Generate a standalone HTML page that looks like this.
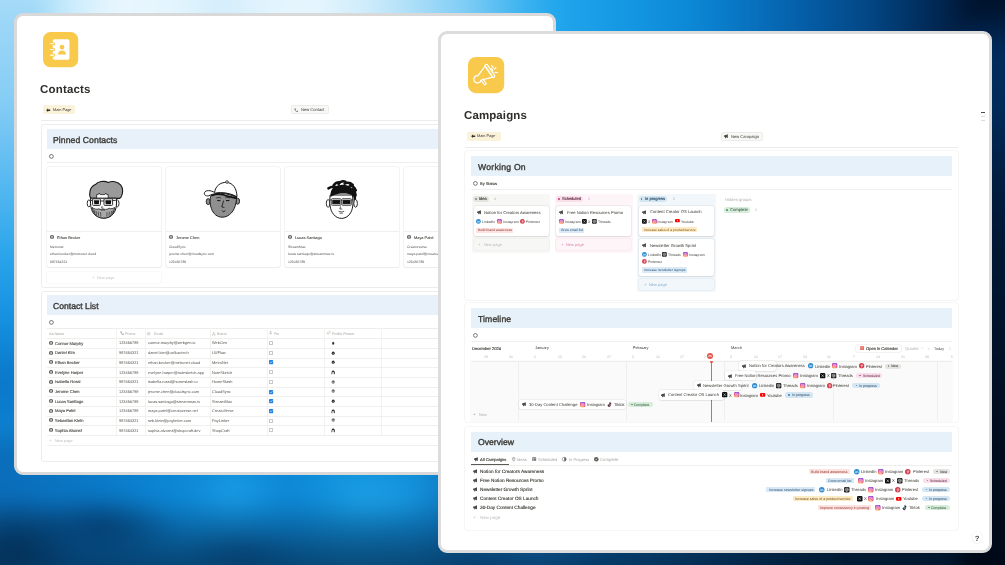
<!DOCTYPE html>
<html><head><meta charset="utf-8">
<style>
*{box-sizing:border-box;margin:0;padding:0}
html,body{width:1005px;height:565px;overflow:hidden}
body{position:relative;font-family:"Liberation Sans",Arial,sans-serif;color:#37352f;background:#0a70c0}
#bg{position:absolute;left:0;top:0;width:1005px;height:565px;overflow:hidden}
#bg>div{position:absolute;left:0;top:0;width:1005px;height:565px;filter:blur(10px)}
#bg i{position:absolute;display:block}
.win{position:absolute;background:#fff;border:3px solid #d9d9d9;border-radius:9px;overflow:hidden}
.pc{position:absolute;width:0;height:0}
.a{position:absolute;white-space:nowrap}
.t{transform:skewX(.06deg)}
svg.a{overflow:visible}

</style></head>
<body>
<div id="bg"><div>
<i style="left:-30px;top:-30px;width:1070px;height:300px;background:linear-gradient(90deg,#a6dbf8 0px,#ace0f9 70px,#d2eefc 110px,#e9f7fe 150px,#e4f5fd 200px,#d4eefc 250px,#e2f4fd 300px,#e6f6fe 345px,#cdebfb 400px,#a6dcf8 450px,#7acbf5 500px,#3fb4f0 550px,#1fa5ec 590px,#1699e4 650px,#0c88d6 720px,#0872bf 780px,#055fa8 830px,#034684 900px,#012a58 960px,#001530 1010px,#000c22 1070px)"></i>
<i style="left:-30px;top:0px;width:75px;height:600px;background:linear-gradient(180deg,#a3d9f7 0px,#86cdf5 100px,#4cb4ef 200px,#27a3ea 260px,#1590e0 320px,#0a78c8 380px,#0c80cf 430px,#0a6db8 480px,#065696 520px,#043a68 565px,#033058 600px)"></i>
<i style="left:-30px;top:440px;width:1070px;height:160px;background:linear-gradient(90deg,#0a6cb8 0px,#0a70bd 60px,#0a7ac8 130px,#0c86d4 200px,#1190dc 260px,#0d88d6 320px,#1396de 380px,#1290da 440px,#0e74bc 500px,#1580d0 570px,#0c64a8 630px,#0a558f 690px,#073e6c 750px,#042848 810px,#021628 880px,#01080f 1070px)"></i>
<i style="left:-30px;top:500px;width:1070px;height:100px;background:linear-gradient(180deg,rgba(2,35,70,0) 0px,rgba(2,35,70,.35) 30px,rgba(2,30,60,.6) 60px,rgba(2,30,60,.7) 100px)"></i>
<i style="left:20px;top:495px;width:160px;height:60px;border-radius:50%;background:radial-gradient(closest-side,rgba(3,50,95,.8),rgba(3,50,95,0))"></i>
<i style="left:180px;top:530px;width:120px;height:50px;border-radius:50%;background:radial-gradient(closest-side,rgba(3,50,95,.6),rgba(3,50,95,0))"></i>
<i style="left:190px;top:470px;width:90px;height:45px;border-radius:50%;background:radial-gradient(closest-side,rgba(40,170,240,.45),rgba(40,170,240,0))"></i>
<i style="left:320px;top:470px;width:110px;height:55px;border-radius:50%;background:radial-gradient(closest-side,rgba(40,170,240,.45),rgba(40,170,240,0))"></i>
<i style="left:960px;top:0;width:80px;height:600px;background:linear-gradient(180deg,#000f26 0px,#002b5c 50px,#002a58 110px,#001a3a 200px,#00142e 300px,#000d20 420px,#000814 600px)"></i>
<i style="left:-50px;top:495px;width:130px;height:100px;border-radius:50%;background:radial-gradient(closest-side,rgba(2,40,75,.75),rgba(2,40,75,0))"></i>
</div></div>

<div class="win" id="w1" style="left:14px;top:12.5px;width:542px;height:462.5px">
 <div class="pc" style="left:-17px;top:-15.5px">
<svg class="a" style="left:43px;top:32px;" width="35.2" height="35.2" viewBox="0 0 35 35"><rect width="35" height="35" rx="7.5" fill="#f8c94b"/><rect x="9.7" y="7.2" width="16.6" height="20.3" rx="1.6" fill="#fff"/><g fill="#fff" stroke="#f8c94b" stroke-width="1"><rect x="6.6" y="10.6" width="5" height="2.2" rx="1.1"/><rect x="6.6" y="16.3" width="5" height="2.2" rx="1.1"/><rect x="6.6" y="22" width="5" height="2.2" rx="1.1"/></g><circle cx="18.9" cy="15.1" r="2.3" fill="#f8c94b"/><path d="M14.8 22.3c.3-2.6 1.8-3.9 4.1-3.9s3.8 1.3 4.1 3.9z" fill="#f8c94b"/></svg>
<div class="a t" style="left:39.7px;top:84.2px;font-size:11.5px;line-height:11.5px;color:#2f2e2b;font-weight:bold;letter-spacing:.18px">Contacts</div>
<div class="a" style="left:43.1px;top:105.2px;width:32.2px;height:9.2px;background:#fbf2da;border-radius:1.8px"></div>
<svg class="a" style="left:46.4px;top:107.8px;" width="4.4" height="4.4" viewBox="0 0 10 10"><path d="M4.8 .8L.4 5l4.4 4.2V6.7h4.8V3.3H4.8z" fill="#37352f"/></svg>
<div class="a t" style="left:53.1px;top:108.18px;font-size:3.87px;line-height:3.87px;color:#37352f;">Main Page</div>
<div class="a" style="left:291.2px;top:105.2px;width:37.6px;height:9.2px;background:#f8f8f7;border-radius:1.8px;border:.5px solid #ececea"></div>
<svg class="a" style="left:294.2px;top:107.8px;" width="4.4" height="4.4" viewBox="0 0 24 24"><path fill="#37352f" d="M6.62 10.79c1.44 2.83 3.76 5.14 6.59 6.59l2.2-2.2c.27-.27.67-.36 1.02-.24 1.12.37 2.33.57 3.57.57.55 0 1 .45 1 1V20c0 .55-.45 1-1 1-9.39 0-17-7.61-17-17 0-.55.45-1 1-1h3.5c.55 0 1 .45 1 1 0 1.25.2 2.45.57 3.57.11.35.03.74-.25 1.02l-2.2 2.2z"/></svg>
<div class="a t" style="left:301.2px;top:108.35px;font-size:4.1px;line-height:4.1px;color:#37352f;">New Contact</div>
<div class="a" style="left:41px;top:120.2px;width:520px;height:0.6px;background:#ececeb"></div>
<div class="a" style="left:40.6px;top:124.4px;width:520px;height:163.6px;border:.6px solid #ededec;border-radius:2.5px"></div>
<div class="a" style="left:46.5px;top:129px;width:510px;height:20px;background:#e8f1f9"></div>
<div class="a t" style="left:53.4px;top:135.6px;font-size:8.65px;line-height:8.65px;color:#3c3b37;-webkit-text-stroke:.36px #3c3b37;letter-spacing:.08px">Pinned Contacts</div>
<svg class="a" style="left:48.6px;top:154px;" width="4.8" height="4.8" viewBox="0 0 4.8 4.8"><circle cx="2.4" cy="2.4" r="1.9" fill="none" stroke="#4a4945" stroke-width="0.75"/></svg>
<div class="a" style="left:46.5px;top:161.9px;width:510px;height:0.6px;background:#efefee"></div>
<div class="a" style="left:46.7px;top:167px;width:114.2px;height:100.1px;border-radius:2px;box-shadow:0 0 0 .6px rgba(15,15,15,.07),0 .5px 1.5px rgba(15,15,15,.05)"></div>
<div class="a" style="left:46.7px;top:231.2px;width:114.2px;height:0.5px;background:#efefee"></div>
<svg class="a" style="left:85.2px;top:179.5px;" width="40" height="40" viewBox="0 0 40 40"><path d="M5.6 18.5C3.6 14 4.6 7 10.4 4.6 12.6 1.4 19 .4 23.4 2.4c3.6-1.8 9.4-1 12.4 2.8 2.6 3.4 2.2 8.4.4 11.6l-1.6 1.6H6.6z" fill="#9a9a9a" stroke="#1a1a1a" stroke-width="1.1"/>
<path d="M11.6 18.4v-3.8h1.6l1-1.6 1 1.6h4.6l1-1.6 1 1.6h1.4v3.8z" fill="#fff" stroke="#1a1a1a" stroke-width=".8"/>
<ellipse cx="3.9" cy="23.4" rx="1.7" ry="3.5" fill="#fff" stroke="#1a1a1a" stroke-width=".9"/>
<ellipse cx="32.3" cy="23.4" rx="1.7" ry="3.5" fill="#fff" stroke="#1a1a1a" stroke-width=".9"/>
<path d="M5.6 18.2c-.4 7 .4 12.4 3.6 16 2.6 2.8 6 4 9.6 4s7-1.4 9.4-4.2c3-3.6 3.8-9 3.2-15.8z" fill="#fff" stroke="#1a1a1a" stroke-width="1"/>
<path d="M7 27.4c1 4.6 3.4 8.4 6.8 9.8 3.2 1.2 6.8 1.2 10-.2 3.4-1.6 5.4-5 6-9.6-2 1.4-4 1.6-5.6.8-1.4 1.2-3.4 1.4-5.2 1-1.6.6-3.6.6-5.2-.4-1.8 1-4.4 .4-6.8-1.4z" fill="#a9a9a9" stroke="#1a1a1a" stroke-width=".8"/>
<path d="M9 29.6l.8 3.4M11 31l.6 3.8M13.2 31.6l.4 4.2M15.6 32l.2 4.6M22 32l-.2 4.6M24.4 31.6l-.4 4.2M26.6 31l-.6 3.8M28.4 29.8l-.8 3.2" stroke="#333" stroke-width=".7"/>
<path d="M16.4 30.6c1.2-.8 2.6-.8 3.6 0" stroke="#333" stroke-width=".7" fill="none"/>
<rect x="7.6" y="18.8" width="7.8" height="6.6" rx=".8" fill="#fff" stroke="#1a1a1a" stroke-width=".9"/>
<rect x="19" y="18.8" width="8.6" height="6.6" rx=".8" fill="#fff" stroke="#1a1a1a" stroke-width=".9"/>
<path d="M8.9 20.2h5.3l-.4 4H9.3z" fill="#111"/><path d="M20.3 20.2h6l-.4 4h-5.2z" fill="#111"/>
<path d="M15.4 21h3.6M5.6 20.4h2M27.6 20.4h3.2" stroke="#1a1a1a" stroke-width=".9"/>
<path d="M17.2 26l-.6 2.2h2" stroke="#1a1a1a" stroke-width=".7" fill="none"/></svg>
<svg class="a" style="left:50.1px;top:235.3px;" width="4" height="4" viewBox="0 0 10 10"><circle cx="5" cy="5" r="5" fill="#55534e"/><circle cx="5" cy="3.7" r="1.6" fill="#fff"/><path d="M2.6 8.2c.3-1.9 1.2-2.6 2.4-2.6s2.1.7 2.4 2.6z" fill="#fff"/></svg>
<div class="a t" style="left:57px;top:235.59px;font-size:3.9px;line-height:3.9px;color:#37352f;-webkit-text-stroke:.06px #37352f">Ethan Becker</div>
<div class="a t" style="left:49.7px;top:245.94px;font-size:3.45px;line-height:3.45px;color:#55534e;">Metronet</div>
<div class="a t" style="left:49.7px;top:252.84px;font-size:3.45px;line-height:3.45px;color:#55534e;">ethan.becker@metronet.cloud</div>
<div class="a t" style="left:49.7px;top:261.04px;font-size:3.45px;line-height:3.45px;color:#55534e;">987654321</div>
<div class="a" style="left:165.65px;top:167px;width:114.2px;height:100.1px;border-radius:2px;box-shadow:0 0 0 .6px rgba(15,15,15,.07),0 .5px 1.5px rgba(15,15,15,.05)"></div>
<div class="a" style="left:165.65px;top:231.2px;width:114.2px;height:0.5px;background:#efefee"></div>
<svg class="a" style="left:204.15px;top:179.5px;" width="40" height="40" viewBox="0 0 40 40"><ellipse cx="4.2" cy="21.6" rx="2" ry="3" fill="#8c8c8c" stroke="#1a1a1a" stroke-width=".9"/>
<ellipse cx="33.6" cy="21.2" rx="2" ry="3" fill="#8c8c8c" stroke="#1a1a1a" stroke-width=".9"/>
<path d="M7 15.6c-1.2 3.4-1.4 8.4.4 13 1.8 5 5.6 8.6 10.8 8.6 5.4 0 9.8-3.8 12-8.6 1.8-4 2.4-8.4 2.2-11.8-4.2-2.4-9.4-3.8-15-3.8-4 0-7.4 1-10.4 2.6z" fill="#8f8f8f" stroke="#1a1a1a" stroke-width="1"/>
<path d="M10.6 12.4C11.4 6 16.4 2.2 22.4 2.4c6.8.4 10.4 6.2 10.6 14.4-4.4-2.6-10.4-4.2-16.4-4.2-2.4 0-4.4.2-6 .4z" fill="#fff" stroke="#1a1a1a" stroke-width="1"/>
<path d="M10.8 12.6C6.6 10 1.8 10 .6 12.4-.4 14.6 1.6 16.4 4.6 15.8l3.6-1.4c4.6-1.6 11.2-1.6 17.6.4l7 2.2" fill="#fff" stroke="#1a1a1a" stroke-width="1"/>
<path d="M8 15.4c4.2-1.6 10.6-1.2 16.4 1l8.4 2" fill="none" stroke="#111" stroke-width="1.6"/>
<circle cx="23" cy="2" r="1.3" fill="#fff" stroke="#1a1a1a" stroke-width=".8"/>
<path d="M12.4 18c1.4-.6 3-.6 4.4 0M21.4 17.8c1.4-.6 3-.4 4.4.4" stroke="#111" stroke-width=".8" fill="none"/>
<path d="M13.2 20.6h3.2M22 20.6h3.4" stroke="#111" stroke-width="1"/>
<path d="M19.6 20.6l-1.8 6.4 2.6.4" stroke="#111" stroke-width=".8" fill="none"/>
<path d="M18.2 30.4c.3 1.8 2.6 1.8 2.9 0" stroke="#111" stroke-width=".8" fill="none"/></svg>
<svg class="a" style="left:169.05px;top:235.3px;" width="4" height="4" viewBox="0 0 10 10"><circle cx="5" cy="5" r="5" fill="#55534e"/><circle cx="5" cy="3.7" r="1.6" fill="#fff"/><path d="M2.6 8.2c.3-1.9 1.2-2.6 2.4-2.6s2.1.7 2.4 2.6z" fill="#fff"/></svg>
<div class="a t" style="left:175.95px;top:235.59px;font-size:3.9px;line-height:3.9px;color:#37352f;-webkit-text-stroke:.06px #37352f">Jerome Chen</div>
<div class="a t" style="left:168.65px;top:245.94px;font-size:3.45px;line-height:3.45px;color:#55534e;">CloudSync</div>
<div class="a t" style="left:168.65px;top:252.84px;font-size:3.45px;line-height:3.45px;color:#55534e;">jerome.chen@cloudsync.com</div>
<div class="a t" style="left:168.65px;top:261.04px;font-size:3.45px;line-height:3.45px;color:#55534e;">123456789</div>
<div class="a" style="left:284.6px;top:167px;width:114.2px;height:100.1px;border-radius:2px;box-shadow:0 0 0 .6px rgba(15,15,15,.07),0 .5px 1.5px rgba(15,15,15,.05)"></div>
<div class="a" style="left:284.6px;top:231.2px;width:114.2px;height:0.5px;background:#efefee"></div>
<svg class="a" style="left:323.1px;top:179.5px;" width="40" height="40" viewBox="0 0 40 40"><ellipse cx="5.1" cy="23.4" rx="1.8" ry="3.8" fill="#fff" stroke="#1a1a1a" stroke-width=".9"/>
<ellipse cx="32.6" cy="23.4" rx="1.8" ry="3.8" fill="#fff" stroke="#1a1a1a" stroke-width=".9"/>
<path d="M7.2 15c-1 8.4-.4 14.6 3.2 19.2 2.4 3 5.2 4.2 8.2 4.2s6-1.4 8.2-4.4c3.2-4.4 3.8-10.4 2.6-19z" fill="#fff" stroke="#1a1a1a" stroke-width="1"/>
<path d="M7.6 17c-.6-4 .6-8 3.6-10 4.4-2.8 11.4-3 15.6-.4 3.4 2.2 4.6 6 4.2 10.6-1.4-1.8-3.2-2.8-5.4-3.2-4.6-.8-9.6-.6-13.6.8-1.8.6-3.2 1.2-4.4 2.2z" fill="#111"/>
<path d="M5.4 8.4c2.4-1.6 5-2 7.2-1.4M10.6 5.4c1.2-2.2 3.4-3.2 5.6-3.2M15.6 4.2c1.4-2.4 4.4-3.2 6.8-2.6M21.6 3.6c2.8-1.4 6-.8 8.2 1.2M26.8 5.6c2.8.4 5 2.2 6 4.8M29.6 9.2c1.8 1.4 2.8 3.6 3 6.2M30.6 13.4c1.2 1.6 1.6 3.4 1.2 5.4" stroke="#111" stroke-width="2.5" stroke-linecap="round" fill="none"/>
<rect x="9" y="19.6" width="8.4" height="4.8" rx=".6" fill="#111" stroke="#fff" stroke-width=".5"/>
<rect x="19.4" y="19.6" width="8.4" height="4.8" rx=".6" fill="#111" stroke="#fff" stroke-width=".5"/>
<rect x="8.4" y="18.6" width="9.6" height="6.8" rx="1" fill="none" stroke="#1a1a1a" stroke-width=".7"/>
<rect x="18.8" y="18.6" width="9.6" height="6.8" rx="1" fill="none" stroke="#1a1a1a" stroke-width=".7"/>
<path d="M18 20.4h.8M7 20h1.4M28.4 20h2" stroke="#1a1a1a" stroke-width=".9"/>
<path d="M17.6 26.4l-.8 2.6h2.4M15.6 31.2c1.8.8 3.8.8 5.6 0M16.6 33.2h3.2" stroke="#1a1a1a" stroke-width=".7" fill="none"/></svg>
<svg class="a" style="left:288px;top:235.3px;" width="4" height="4" viewBox="0 0 10 10"><circle cx="5" cy="5" r="5" fill="#55534e"/><circle cx="5" cy="3.7" r="1.6" fill="#fff"/><path d="M2.6 8.2c.3-1.9 1.2-2.6 2.4-2.6s2.1.7 2.4 2.6z" fill="#fff"/></svg>
<div class="a t" style="left:294.9px;top:235.59px;font-size:3.9px;line-height:3.9px;color:#37352f;-webkit-text-stroke:.06px #37352f">Lucas Santiago</div>
<div class="a t" style="left:287.6px;top:245.94px;font-size:3.45px;line-height:3.45px;color:#55534e;">StreamMax</div>
<div class="a t" style="left:287.6px;top:252.84px;font-size:3.45px;line-height:3.45px;color:#55534e;">lucas.santiago@streammax.tv</div>
<div class="a t" style="left:287.6px;top:261.04px;font-size:3.45px;line-height:3.45px;color:#55534e;">123456789</div>
<div class="a" style="left:403.55px;top:167px;width:114.2px;height:100.1px;border-radius:2px;box-shadow:0 0 0 .6px rgba(15,15,15,.07),0 .5px 1.5px rgba(15,15,15,.05)"></div>
<div class="a" style="left:403.55px;top:231.2px;width:114.2px;height:0.5px;background:#efefee"></div>
<svg class="a" style="left:406.95px;top:235.3px;" width="4" height="4" viewBox="0 0 10 10"><circle cx="5" cy="5" r="5" fill="#55534e"/><circle cx="5" cy="3.7" r="1.6" fill="#fff"/><path d="M2.6 8.2c.3-1.9 1.2-2.6 2.4-2.6s2.1.7 2.4 2.6z" fill="#fff"/></svg>
<div class="a t" style="left:413.85px;top:235.59px;font-size:3.9px;line-height:3.9px;color:#37352f;-webkit-text-stroke:.06px #37352f">Maya Patel</div>
<div class="a t" style="left:406.55px;top:245.94px;font-size:3.45px;line-height:3.45px;color:#55534e;">Creatorverse</div>
<div class="a t" style="left:406.55px;top:252.84px;font-size:3.45px;line-height:3.45px;color:#55534e;">maya.patel@creatoverse.net</div>
<div class="a t" style="left:406.55px;top:261.04px;font-size:3.45px;line-height:3.45px;color:#55534e;">123456789</div>
<div class="a" style="left:46.7px;top:271.6px;width:114.2px;height:11.7px;border-radius:2px;box-shadow:0 0 0 .6px rgba(15,15,15,.05)"></div>
<div class="a t" style="left:91.6px;top:276.45px;font-size:4.4px;line-height:4.4px;color:#c4c3c0;">+</div>
<div class="a t" style="left:96.8px;top:276.29px;font-size:3.9px;line-height:3.9px;color:#c4c3c0;">New page</div>
<div class="a" style="left:40.6px;top:290.8px;width:520px;height:170.8px;border:.6px solid #ededec;border-radius:2.5px"></div>
<div class="a" style="left:46.5px;top:295.3px;width:510px;height:20.1px;background:#e8f1f9"></div>
<div class="a t" style="left:52.9px;top:301.9px;font-size:8.65px;line-height:8.65px;color:#3c3b37;-webkit-text-stroke:.36px #3c3b37">Contact List</div>
<svg class="a" style="left:48.6px;top:320.4px;" width="4.8" height="4.8" viewBox="0 0 4.8 4.8"><circle cx="2.4" cy="2.4" r="1.9" fill="none" stroke="#4a4945" stroke-width="0.75"/></svg>
<div class="a" style="left:46.5px;top:328.1px;width:510px;height:0.5px;background:#ededec"></div>
<div class="a" style="left:46.5px;top:338.2px;width:510px;height:0.5px;background:#ededec"></div>
<div class="a" style="left:116.3px;top:328.1px;width:0.5px;height:107px;background:#f2f2f1"></div>
<div class="a" style="left:145.3px;top:328.1px;width:0.5px;height:107px;background:#f2f2f1"></div>
<div class="a" style="left:209.8px;top:328.1px;width:0.5px;height:107px;background:#f2f2f1"></div>
<div class="a" style="left:266.9px;top:328.1px;width:0.5px;height:107px;background:#f2f2f1"></div>
<div class="a" style="left:324.2px;top:328.1px;width:0.5px;height:107px;background:#f2f2f1"></div>
<div class="a" style="left:380.8px;top:328.1px;width:0.5px;height:107px;background:#f2f2f1"></div>
<div class="a t" style="left:48.6px;top:332.79px;font-size:3.6px;line-height:3.6px;color:#a5a4a0;">Aa&nbsp;Name</div>
<svg class="a" style="left:119.5px;top:331.1px;" width="4.3" height="4.3" viewBox="0 0 24 24"><path fill="#6f6e6a" d="M6.62 10.79c1.44 2.83 3.76 5.14 6.59 6.59l2.2-2.2c.27-.27.67-.36 1.02-.24 1.12.37 2.33.57 3.57.57.55 0 1 .45 1 1V20c0 .55-.45 1-1 1-9.39 0-17-7.61-17-17 0-.55.45-1 1-1h3.5c.55 0 1 .45 1 1 0 1.25.2 2.45.57 3.57.11.35.03.74-.25 1.02l-2.2 2.2z"/></svg>
<div class="a t" style="left:125.2px;top:332.79px;font-size:3.6px;line-height:3.6px;color:#a5a4a0;">Phone</div>
<svg class="a" style="left:147.4px;top:331.6px;" width="3.4" height="3.4" viewBox="0 0 10 10"><circle cx="5" cy="5" r="4.2" fill="none" stroke="#a5a4a0" stroke-width="1.1"/><circle cx="5" cy="5" r="1.7" fill="none" stroke="#a5a4a0" stroke-width="1.1"/></svg>
<div class="a t" style="left:153.6px;top:332.79px;font-size:3.6px;line-height:3.6px;color:#a5a4a0;">Email</div>
<svg class="a" style="left:211.8px;top:331.5px;" width="3.6" height="3.6" viewBox="0 0 10 10"><g fill="none" stroke="#a5a4a0" stroke-width="1"><circle cx="5" cy="2.2" r="1.5"/><circle cx="2" cy="8" r="1.5"/><circle cx="8" cy="8" r="1.5"/><path d="M5 3.7V5.5M3 7l2-1.5 2 1.5"/></g></svg>
<div class="a t" style="left:217.3px;top:332.79px;font-size:3.6px;line-height:3.6px;color:#a5a4a0;">Brand</div>
<svg class="a" style="left:269.4px;top:331.3px;" width="3.2" height="3.8" viewBox="0 0 8 10"><path d="M2 1h4M2.8 1v3.5L1 6.5h6L5.2 4.5V1M4 6.5V10" fill="none" stroke="#a5a4a0" stroke-width="1.1"/></svg>
<div class="a t" style="left:274.3px;top:332.79px;font-size:3.6px;line-height:3.6px;color:#a5a4a0;">Pin</div>
<svg class="a" style="left:326.5px;top:331.4px;" width="3.6" height="3.8" viewBox="0 0 10 10"><path d="M7.5 3.2L3.6 7.1a1.2 1.2 0 0 1-1.7-1.7L6.5.8a2 2 0 0 1 2.8 2.8L4.8 8.2a2.8 2.8 0 0 1-4-4L4 1" fill="none" stroke="#a5a4a0" stroke-width=".9"/></svg>
<div class="a t" style="left:331.8px;top:332.79px;font-size:3.6px;line-height:3.6px;color:#a5a4a0;">Profile Picture</div>
<div class="a" style="left:46.5px;top:347.88px;width:510px;height:0.5px;background:#efefee"></div>
<svg class="a" style="left:49.25px;top:340.95px;" width="4.1" height="4.1" viewBox="0 0 10 10"><circle cx="5" cy="5" r="5" fill="#55534e"/><circle cx="5" cy="3.7" r="1.6" fill="#fff"/><path d="M2.6 8.2c.3-1.9 1.2-2.6 2.4-2.6s2.1.7 2.4 2.6z" fill="#fff"/></svg>
<div class="a t" style="left:55.3px;top:341.55px;font-size:4.1px;line-height:4.1px;color:#37352f;-webkit-text-stroke:.08px #37352f">Connor Murphy</div>
<div class="a t" style="left:119px;top:341.49px;font-size:3.9px;line-height:3.9px;color:#55534e;">123456789</div>
<div class="a t" style="left:147.8px;top:341.49px;font-size:3.9px;line-height:3.9px;color:#55534e;">connor.murphy@webgen.io</div>
<div class="a t" style="left:212px;top:341.49px;font-size:3.9px;line-height:3.9px;color:#55534e;">WebGen</div>
<div class="a" style="left:269.4px;top:341.1px;width:4.1px;height:4.1px;border:.5px solid #c9c8c5;border-radius:.6px"></div>
<svg class="a" style="left:331.2px;top:340.9px;" width="4.4" height="4.4" viewBox="0 0 10 10"><ellipse cx="5" cy="5.2" rx="2.2" ry="3.6" fill="#2a2a2a"/></svg>
<div class="a" style="left:46.5px;top:357.56px;width:510px;height:0.5px;background:#efefee"></div>
<svg class="a" style="left:49.25px;top:350.63px;" width="4.1" height="4.1" viewBox="0 0 10 10"><circle cx="5" cy="5" r="5" fill="#55534e"/><circle cx="5" cy="3.7" r="1.6" fill="#fff"/><path d="M2.6 8.2c.3-1.9 1.2-2.6 2.4-2.6s2.1.7 2.4 2.6z" fill="#fff"/></svg>
<div class="a t" style="left:55.3px;top:351.23px;font-size:4.1px;line-height:4.1px;color:#37352f;-webkit-text-stroke:.08px #37352f">Daniel Kim</div>
<div class="a t" style="left:119px;top:351.17px;font-size:3.9px;line-height:3.9px;color:#55534e;">987654321</div>
<div class="a t" style="left:147.8px;top:351.17px;font-size:3.9px;line-height:3.9px;color:#55534e;">daniel.kim@uxflow.tech</div>
<div class="a t" style="left:212px;top:351.17px;font-size:3.9px;line-height:3.9px;color:#55534e;">UXFlow</div>
<div class="a" style="left:269.4px;top:350.78px;width:4.1px;height:4.1px;border:.5px solid #c9c8c5;border-radius:.6px"></div>
<svg class="a" style="left:331.2px;top:350.58px;" width="4.4" height="4.4" viewBox="0 0 10 10"><ellipse cx="5" cy="5" rx="3.4" ry="3.8" fill="#2a2a2a"/><ellipse cx="5" cy="6.4" rx="2.2" ry="2" fill="#777"/></svg>
<div class="a" style="left:46.5px;top:367.24px;width:510px;height:0.5px;background:#efefee"></div>
<svg class="a" style="left:49.25px;top:360.31px;" width="4.1" height="4.1" viewBox="0 0 10 10"><circle cx="5" cy="5" r="5" fill="#55534e"/><circle cx="5" cy="3.7" r="1.6" fill="#fff"/><path d="M2.6 8.2c.3-1.9 1.2-2.6 2.4-2.6s2.1.7 2.4 2.6z" fill="#fff"/></svg>
<div class="a t" style="left:55.3px;top:360.91px;font-size:4.1px;line-height:4.1px;color:#37352f;-webkit-text-stroke:.08px #37352f">Ethan Becker</div>
<div class="a t" style="left:119px;top:360.85px;font-size:3.9px;line-height:3.9px;color:#55534e;">987654321</div>
<div class="a t" style="left:147.8px;top:360.85px;font-size:3.9px;line-height:3.9px;color:#55534e;">ethan.becker@metronet.cloud</div>
<div class="a t" style="left:212px;top:360.85px;font-size:3.9px;line-height:3.9px;color:#55534e;">MetroNet</div>
<svg class="a" style="left:269.4px;top:360.46px;" width="4.2" height="4.2" viewBox="0 0 10 10"><rect width="10" height="10" rx="1.5" fill="#2383e2"/><path d="M2.3 5.2l1.9 1.9 3.6-3.9" fill="none" stroke="#fff" stroke-width="1.4"/></svg>
<svg class="a" style="left:331.2px;top:360.26px;" width="4.4" height="4.4" viewBox="0 0 10 10"><ellipse cx="5" cy="5" rx="3.4" ry="3.8" fill="#2a2a2a"/><ellipse cx="5" cy="6.4" rx="2.2" ry="2" fill="#777"/></svg>
<div class="a" style="left:46.5px;top:376.92px;width:510px;height:0.5px;background:#efefee"></div>
<svg class="a" style="left:49.25px;top:369.99px;" width="4.1" height="4.1" viewBox="0 0 10 10"><circle cx="5" cy="5" r="5" fill="#55534e"/><circle cx="5" cy="3.7" r="1.6" fill="#fff"/><path d="M2.6 8.2c.3-1.9 1.2-2.6 2.4-2.6s2.1.7 2.4 2.6z" fill="#fff"/></svg>
<div class="a t" style="left:55.3px;top:370.59px;font-size:4.1px;line-height:4.1px;color:#37352f;-webkit-text-stroke:.08px #37352f">Evelyne Harper</div>
<div class="a t" style="left:119px;top:370.53px;font-size:3.9px;line-height:3.9px;color:#55534e;">123456789</div>
<div class="a t" style="left:147.8px;top:370.53px;font-size:3.9px;line-height:3.9px;color:#55534e;">evelyne.harper@notesketch.app</div>
<div class="a t" style="left:212px;top:370.53px;font-size:3.9px;line-height:3.9px;color:#55534e;">NoteSketch</div>
<div class="a" style="left:269.4px;top:370.14px;width:4.1px;height:4.1px;border:.5px solid #c9c8c5;border-radius:.6px"></div>
<svg class="a" style="left:331.2px;top:369.94px;" width="4.4" height="4.4" viewBox="0 0 10 10"><path d="M1.2 9.6C.8 4 2.2 1 5 1s4.2 3 3.8 8.6H7.2C7.4 6 6.6 4.6 5 4.6S2.6 6 2.8 9.6z" fill="#1e1e1e"/><ellipse cx="5" cy="6.6" rx="2" ry="2.4" fill="#bbb"/></svg>
<div class="a" style="left:46.5px;top:386.6px;width:510px;height:0.5px;background:#efefee"></div>
<svg class="a" style="left:49.25px;top:379.67px;" width="4.1" height="4.1" viewBox="0 0 10 10"><circle cx="5" cy="5" r="5" fill="#55534e"/><circle cx="5" cy="3.7" r="1.6" fill="#fff"/><path d="M2.6 8.2c.3-1.9 1.2-2.6 2.4-2.6s2.1.7 2.4 2.6z" fill="#fff"/></svg>
<div class="a t" style="left:55.3px;top:380.27px;font-size:4.1px;line-height:4.1px;color:#37352f;-webkit-text-stroke:.08px #37352f">Isabella Rossi</div>
<div class="a t" style="left:119px;top:380.21px;font-size:3.9px;line-height:3.9px;color:#55534e;">987654321</div>
<div class="a t" style="left:147.8px;top:380.21px;font-size:3.9px;line-height:3.9px;color:#55534e;">isabella.rossi@homestash.io</div>
<div class="a t" style="left:212px;top:380.21px;font-size:3.9px;line-height:3.9px;color:#55534e;">HomeStash</div>
<div class="a" style="left:269.4px;top:379.82px;width:4.1px;height:4.1px;border:.5px solid #c9c8c5;border-radius:.6px"></div>
<svg class="a" style="left:331.2px;top:379.62px;" width="4.4" height="4.4" viewBox="0 0 10 10"><ellipse cx="5" cy="5" rx="3.6" ry="3.9" fill="#9c9c9c"/><ellipse cx="5" cy="3" rx="3.4" ry="2" fill="#6a6a6a"/></svg>
<div class="a" style="left:46.5px;top:396.28px;width:510px;height:0.5px;background:#efefee"></div>
<svg class="a" style="left:49.25px;top:389.35px;" width="4.1" height="4.1" viewBox="0 0 10 10"><circle cx="5" cy="5" r="5" fill="#55534e"/><circle cx="5" cy="3.7" r="1.6" fill="#fff"/><path d="M2.6 8.2c.3-1.9 1.2-2.6 2.4-2.6s2.1.7 2.4 2.6z" fill="#fff"/></svg>
<div class="a t" style="left:55.3px;top:389.95px;font-size:4.1px;line-height:4.1px;color:#37352f;-webkit-text-stroke:.08px #37352f">Jerome Chen</div>
<div class="a t" style="left:119px;top:389.89px;font-size:3.9px;line-height:3.9px;color:#55534e;">123456789</div>
<div class="a t" style="left:147.8px;top:389.89px;font-size:3.9px;line-height:3.9px;color:#55534e;">jerome.chen@cloudsync.com</div>
<div class="a t" style="left:212px;top:389.89px;font-size:3.9px;line-height:3.9px;color:#55534e;">CloudSync</div>
<svg class="a" style="left:269.4px;top:389.5px;" width="4.2" height="4.2" viewBox="0 0 10 10"><rect width="10" height="10" rx="1.5" fill="#2383e2"/><path d="M2.3 5.2l1.9 1.9 3.6-3.9" fill="none" stroke="#fff" stroke-width="1.4"/></svg>
<svg class="a" style="left:331.2px;top:389.3px;" width="4.4" height="4.4" viewBox="0 0 10 10"><ellipse cx="5" cy="5" rx="3.6" ry="3.9" fill="#9c9c9c"/><ellipse cx="5" cy="3" rx="3.4" ry="2" fill="#6a6a6a"/></svg>
<div class="a" style="left:46.5px;top:405.96px;width:510px;height:0.5px;background:#efefee"></div>
<svg class="a" style="left:49.25px;top:399.03px;" width="4.1" height="4.1" viewBox="0 0 10 10"><circle cx="5" cy="5" r="5" fill="#55534e"/><circle cx="5" cy="3.7" r="1.6" fill="#fff"/><path d="M2.6 8.2c.3-1.9 1.2-2.6 2.4-2.6s2.1.7 2.4 2.6z" fill="#fff"/></svg>
<div class="a t" style="left:55.3px;top:399.63px;font-size:4.1px;line-height:4.1px;color:#37352f;-webkit-text-stroke:.08px #37352f">Lucas Santiago</div>
<div class="a t" style="left:119px;top:399.57px;font-size:3.9px;line-height:3.9px;color:#55534e;">123456789</div>
<div class="a t" style="left:147.8px;top:399.57px;font-size:3.9px;line-height:3.9px;color:#55534e;">lucas.santiago@streammax.tv</div>
<div class="a t" style="left:212px;top:399.57px;font-size:3.9px;line-height:3.9px;color:#55534e;">StreamMax</div>
<svg class="a" style="left:269.4px;top:399.18px;" width="4.2" height="4.2" viewBox="0 0 10 10"><rect width="10" height="10" rx="1.5" fill="#2383e2"/><path d="M2.3 5.2l1.9 1.9 3.6-3.9" fill="none" stroke="#fff" stroke-width="1.4"/></svg>
<svg class="a" style="left:331.2px;top:398.98px;" width="4.4" height="4.4" viewBox="0 0 10 10"><ellipse cx="5" cy="5" rx="3.4" ry="3.8" fill="#2a2a2a"/><ellipse cx="5" cy="6.4" rx="2.2" ry="2" fill="#777"/></svg>
<div class="a" style="left:46.5px;top:415.64px;width:510px;height:0.5px;background:#efefee"></div>
<svg class="a" style="left:49.25px;top:408.71px;" width="4.1" height="4.1" viewBox="0 0 10 10"><circle cx="5" cy="5" r="5" fill="#55534e"/><circle cx="5" cy="3.7" r="1.6" fill="#fff"/><path d="M2.6 8.2c.3-1.9 1.2-2.6 2.4-2.6s2.1.7 2.4 2.6z" fill="#fff"/></svg>
<div class="a t" style="left:55.3px;top:409.31px;font-size:4.1px;line-height:4.1px;color:#37352f;-webkit-text-stroke:.08px #37352f">Maya Patel</div>
<div class="a t" style="left:119px;top:409.25px;font-size:3.9px;line-height:3.9px;color:#55534e;">123456789</div>
<div class="a t" style="left:147.8px;top:409.25px;font-size:3.9px;line-height:3.9px;color:#55534e;">maya.patel@creatoverse.net</div>
<div class="a t" style="left:212px;top:409.25px;font-size:3.9px;line-height:3.9px;color:#55534e;">CreatoVerse</div>
<svg class="a" style="left:269.4px;top:408.86px;" width="4.2" height="4.2" viewBox="0 0 10 10"><rect width="10" height="10" rx="1.5" fill="#2383e2"/><path d="M2.3 5.2l1.9 1.9 3.6-3.9" fill="none" stroke="#fff" stroke-width="1.4"/></svg>
<svg class="a" style="left:331.2px;top:408.66px;" width="4.4" height="4.4" viewBox="0 0 10 10"><path d="M1.2 9.6C.8 4 2.2 1 5 1s4.2 3 3.8 8.6H7.2C7.4 6 6.6 4.6 5 4.6S2.6 6 2.8 9.6z" fill="#1e1e1e"/><ellipse cx="5" cy="6.6" rx="2" ry="2.4" fill="#bbb"/></svg>
<div class="a" style="left:46.5px;top:425.32px;width:510px;height:0.5px;background:#efefee"></div>
<svg class="a" style="left:49.25px;top:418.39px;" width="4.1" height="4.1" viewBox="0 0 10 10"><circle cx="5" cy="5" r="5" fill="#55534e"/><circle cx="5" cy="3.7" r="1.6" fill="#fff"/><path d="M2.6 8.2c.3-1.9 1.2-2.6 2.4-2.6s2.1.7 2.4 2.6z" fill="#fff"/></svg>
<div class="a t" style="left:55.3px;top:418.99px;font-size:4.1px;line-height:4.1px;color:#37352f;-webkit-text-stroke:.08px #37352f">Sebastian Klein</div>
<div class="a t" style="left:119px;top:418.93px;font-size:3.9px;line-height:3.9px;color:#55534e;">987654321</div>
<div class="a t" style="left:147.8px;top:418.93px;font-size:3.9px;line-height:3.9px;color:#55534e;">seb.klein@paylinker.com</div>
<div class="a t" style="left:212px;top:418.93px;font-size:3.9px;line-height:3.9px;color:#55534e;">PayLinker</div>
<div class="a" style="left:269.4px;top:418.54px;width:4.1px;height:4.1px;border:.5px solid #c9c8c5;border-radius:.6px"></div>
<svg class="a" style="left:331.2px;top:418.34px;" width="4.4" height="4.4" viewBox="0 0 10 10"><ellipse cx="5" cy="5" rx="3.6" ry="3.9" fill="#9c9c9c"/><ellipse cx="5" cy="3" rx="3.4" ry="2" fill="#6a6a6a"/></svg>
<div class="a" style="left:46.5px;top:435px;width:510px;height:0.5px;background:#efefee"></div>
<svg class="a" style="left:49.25px;top:428.07px;" width="4.1" height="4.1" viewBox="0 0 10 10"><circle cx="5" cy="5" r="5" fill="#55534e"/><circle cx="5" cy="3.7" r="1.6" fill="#fff"/><path d="M2.6 8.2c.3-1.9 1.2-2.6 2.4-2.6s2.1.7 2.4 2.6z" fill="#fff"/></svg>
<div class="a t" style="left:55.3px;top:428.67px;font-size:4.1px;line-height:4.1px;color:#37352f;-webkit-text-stroke:.08px #37352f">Sophia Alvarez</div>
<div class="a t" style="left:119px;top:428.61px;font-size:3.9px;line-height:3.9px;color:#55534e;">987654321</div>
<div class="a t" style="left:147.8px;top:428.61px;font-size:3.9px;line-height:3.9px;color:#55534e;">sophia.alvarez@shopcraft.dev</div>
<div class="a t" style="left:212px;top:428.61px;font-size:3.9px;line-height:3.9px;color:#55534e;">ShopCraft</div>
<div class="a" style="left:269.4px;top:428.22px;width:4.1px;height:4.1px;border:.5px solid #c9c8c5;border-radius:.6px"></div>
<svg class="a" style="left:331.2px;top:428.02px;" width="4.4" height="4.4" viewBox="0 0 10 10"><path d="M1.2 9.6C.8 4 2.2 1 5 1s4.2 3 3.8 8.6H7.2C7.4 6 6.6 4.6 5 4.6S2.6 6 2.8 9.6z" fill="#1e1e1e"/><ellipse cx="5" cy="6.6" rx="2" ry="2.4" fill="#bbb"/></svg>
<div class="a t" style="left:48.6px;top:438.65px;font-size:4.4px;line-height:4.4px;color:#bdbcb9;">+</div>
<div class="a t" style="left:55px;top:438.5px;font-size:3.95px;line-height:3.95px;color:#bdbcb9;">New page</div>
<div class="a" style="left:46.5px;top:444.5px;width:510px;height:0.5px;background:#efefee"></div>
 </div>
</div>
<div class="win" id="w2" style="left:438px;top:31px;width:553.5px;height:521.7px;border-color:#dcdcdc">
 <div class="pc" style="left:-441px;top:-34px">
<svg class="a" style="left:467.8px;top:56.6px;" width="36.2" height="36.2" viewBox="0 0 36 36"><rect width="36" height="36" rx="8" fill="#f8c94b"/><g fill="none" stroke="#fff" stroke-width="1.15" stroke-linejoin="round" stroke-linecap="round"><g transform="translate(10.6 21.4) rotate(-34)"><path d="M1 -2.7L12.2 -6.6V6.6L1 2.7"/><path d="M1 -2.7A3.6 3.6 0 1 0 1 2.7"/><rect x="12.2" y="-7.6" width="2.6" height="15.2" rx="1.3"/><path d="M0.9 2.9L1.2 8.6H3.3L3.4 2.6"/><path d="M14.8 -1.6a1.6 1.6 0 0 1 0 3.2"/></g><path d="M23.6 8.5L25 10.4M25.9 12L27.8 10.8M26.6 15.2L29.3 15.6"/></g></svg>
<div class="a t" style="left:464px;top:110.4px;font-size:11.5px;line-height:11.5px;color:#2f2e2b;font-weight:bold;letter-spacing:.1px">Campaigns</div>
<div class="a" style="left:467.4px;top:131.6px;width:33.2px;height:9.1px;background:#fbf2da;border-radius:1.8px"></div>
<svg class="a" style="left:470.6px;top:134.1px;" width="4.4" height="4.4" viewBox="0 0 10 10"><path d="M4.8 .8L.4 5l4.4 4.2V6.7h4.8V3.3H4.8z" fill="#37352f"/></svg>
<div class="a t" style="left:477.3px;top:134.48px;font-size:3.87px;line-height:3.87px;color:#37352f;">Main Page</div>
<div class="a" style="left:720.9px;top:131.7px;width:41.8px;height:9px;background:#f8f8f7;border-radius:1.8px;border:.5px solid #ececea"></div>
<svg class="a" style="left:724px;top:134.1px;" width="4.4" height="4.4" viewBox="0 0 10 10"><path d="M2.3 3.1L8.7.7v8.6L2.3 6.9z" fill="#4a4945"/><rect x=".3" y="3.1" width="2.4" height="3.8" rx=".5" fill="#4a4945"/><path d="M2.2 6.6l.9 3h1.7l-.7-2.6z" fill="#4a4945"/></svg>
<div class="a t" style="left:731px;top:134.55px;font-size:4.1px;line-height:4.1px;color:#37352f;">New Campaign</div>
<div class="a" style="left:465px;top:147.1px;width:493.2px;height:0.6px;background:#ececeb"></div>
<div class="a" style="left:465.3px;top:150.8px;width:492.9px;height:149.4px;border-radius:2.5px;box-shadow:0 0 0 .6px rgba(15,15,15,.07)"></div>
<div class="a" style="left:470.9px;top:155.9px;width:481.1px;height:20.2px;background:#e7f1f9"></div>
<div class="a t" style="left:477.6px;top:162.8px;font-size:8.65px;line-height:8.65px;color:#3c3b37;-webkit-text-stroke:.36px #3c3b37;letter-spacing:0.25px">Working On</div>
<svg class="a" style="left:473.1px;top:181.3px;" width="4.8" height="4.8" viewBox="0 0 4.8 4.8"><circle cx="2.4" cy="2.4" r="1.9" fill="none" stroke="#55534e" stroke-width="0.75"/></svg>
<div class="a t" style="left:480.1px;top:182.1px;font-size:3.95px;line-height:3.95px;color:#37352f;-webkit-text-stroke:.12px #37352f">By Status</div>
<div class="a" style="left:470.9px;top:189.2px;width:481.1px;height:0.5px;background:#efefee"></div>
<div class="a" style="left:472px;top:194.4px;width:78.3px;height:58.3px;background:#f7f7f5;border-radius:2px"></div>
<div class="a" style="left:554.6px;top:194.4px;width:78.3px;height:58.3px;background:#fdf5f8;border-radius:2px"></div>
<div class="a" style="left:637.2px;top:193.7px;width:78.8px;height:98.2px;background:#f1f7fb;border-radius:2px"></div>
<div class="a" style="left:473.4px;top:196.2px;width:15.78px;height:5.8px;background:#e5e4e1;border-radius:2.9px"></div>
<div class="a" style="left:475.4px;top:198.3px;width:1.6px;height:1.6px;background:#8f8e8a;border-radius:50%"></div>
<div class="a t" style="left:479px;top:197.42px;font-size:4px;line-height:4px;color:#37352f;-webkit-text-stroke:0.12px #37352f">Idea</div>
<div class="a t" style="left:494.4px;top:198.42px;font-size:3.7px;line-height:3.7px;color:#9b9a97;">1</div>
<div class="a" style="left:556.2px;top:196.2px;width:26.9px;height:5.8px;background:#f9dfea;border-radius:2.9px"></div>
<div class="a" style="left:558.2px;top:198.3px;width:1.6px;height:1.6px;background:#d2488a;border-radius:50%"></div>
<div class="a t" style="left:561.8px;top:197.42px;font-size:4px;line-height:4px;color:#5a2440;-webkit-text-stroke:0.12px #5a2440">Scheduled</div>
<div class="a t" style="left:588.3px;top:198.25px;font-size:3.5px;line-height:3.5px;color:#dc8db1;">1</div>
<div class="a" style="left:638.9px;top:196.2px;width:28.01px;height:5.8px;background:#d5e6f3;border-radius:2.9px"></div>
<div class="a" style="left:640.9px;top:198.3px;width:1.6px;height:1.6px;background:#3f89c8;border-radius:50%"></div>
<div class="a t" style="left:644.5px;top:197.42px;font-size:4px;line-height:4px;color:#1f3f5c;-webkit-text-stroke:0.12px #1f3f5c">In progress</div>
<div class="a t" style="left:672.8px;top:198.25px;font-size:3.5px;line-height:3.5px;color:#88afd2;">2</div>
<div class="a" style="left:473.5px;top:206.1px;width:75px;height:29.9px;background:#fff;border-radius:2px;box-shadow:0 0 0 .5px rgba(15,15,15,.07),0 .6px 1.4px rgba(15,15,15,.08)"></div>
<svg class="a" style="left:476.65px;top:210.05px;" width="4.5" height="4.5" viewBox="0 0 10 10"><path d="M2.3 3.1L8.7.7v8.6L2.3 6.9z" fill="#4a4945"/><rect x=".3" y="3.1" width="2.4" height="3.8" rx=".5" fill="#4a4945"/><path d="M2.2 6.6l.9 3h1.7l-.7-2.6z" fill="#4a4945"/></svg>
<div class="a t" style="left:484px;top:210.68px;font-size:4.17px;line-height:4.17px;color:#37352f;">Notion for Creators Awareness</div>
<svg class="a" style="left:476px;top:218.9px;" width="4.8" height="4.8" viewBox="0 0 10 10"><circle cx="5" cy="5" r="5" fill="#2a8bd0"/><path d="M3.1 4.3v3.2M3.1 2.7v.5M4.9 7.5V4.3M4.9 5.7c0-1.6 2.6-1.8 2.6 0v1.8" fill="none" stroke="#fff" stroke-width="1.05"/></svg>
<div class="a t" style="left:481.9px;top:220.8px;font-size:3.5px;line-height:3.5px;color:#4a4945;">LinkedIn</div>
<svg class="a" style="left:496.83px;top:218.9px;" width="4.8" height="4.8" viewBox="0 0 10 10"><defs><linearGradient id="igg1" x1="0" y1="1" x2=".3" y2="0"><stop offset="0" stop-color="#fbc94f"/><stop offset=".5" stop-color="#ee3f6d"/><stop offset="1" stop-color="#8c3fd6"/></linearGradient></defs><rect width="10" height="10" rx="2.6" fill="url(#igg1)"/><rect x="2.1" y="2.1" width="5.8" height="5.8" rx="1.8" fill="none" stroke="#fff" stroke-width=".9"/><circle cx="5" cy="5" r="1.4" fill="none" stroke="#fff" stroke-width=".9"/></svg>
<div class="a t" style="left:502.73px;top:220.8px;font-size:3.5px;line-height:3.5px;color:#4a4945;">Instagram</div>
<svg class="a" style="left:519.99px;top:218.9px;" width="4.8" height="4.8" viewBox="0 0 10 10"><circle cx="5" cy="5" r="5" fill="#d33d4c"/><path d="M4.5 8.6l1-4M4.1 5.6c-.6-1.8.6-2.8 1.8-2.6 1.6.3 1.6 2.9 0 3.1-.5 0-.8-.2-.9-.5" fill="none" stroke="#fff" stroke-width=".9"/></svg>
<div class="a t" style="left:525.89px;top:220.8px;font-size:3.5px;line-height:3.5px;color:#4a4945;">Pinterest</div>
<div class="a" style="left:476.4px;top:227.5px;width:37.07px;height:5.2px;background:#fde2df;border-radius:.8px"></div>
<div class="a t" style="left:477.9px;top:229.21px;font-size:3.35px;line-height:3.35px;color:#8e3b35;">Build brand awareness</div>
<div class="a" style="left:556.3px;top:206.1px;width:74.8px;height:29.9px;background:#fff;border-radius:2px;box-shadow:0 0 0 .5px rgba(15,15,15,.07),0 .6px 1.4px rgba(15,15,15,.08)"></div>
<svg class="a" style="left:559.45px;top:210.05px;" width="4.5" height="4.5" viewBox="0 0 10 10"><path d="M2.3 3.1L8.7.7v8.6L2.3 6.9z" fill="#4a4945"/><rect x=".3" y="3.1" width="2.4" height="3.8" rx=".5" fill="#4a4945"/><path d="M2.2 6.6l.9 3h1.7l-.7-2.6z" fill="#4a4945"/></svg>
<div class="a t" style="left:566.8px;top:210.68px;font-size:4.17px;line-height:4.17px;color:#37352f;">Free Notion Resources Promo</div>
<svg class="a" style="left:558.8px;top:218.9px;" width="4.8" height="4.8" viewBox="0 0 10 10"><defs><linearGradient id="igg2" x1="0" y1="1" x2=".3" y2="0"><stop offset="0" stop-color="#fbc94f"/><stop offset=".5" stop-color="#ee3f6d"/><stop offset="1" stop-color="#8c3fd6"/></linearGradient></defs><rect width="10" height="10" rx="2.6" fill="url(#igg2)"/><rect x="2.1" y="2.1" width="5.8" height="5.8" rx="1.8" fill="none" stroke="#fff" stroke-width=".9"/><circle cx="5" cy="5" r="1.4" fill="none" stroke="#fff" stroke-width=".9"/></svg>
<div class="a t" style="left:564.7px;top:220.8px;font-size:3.5px;line-height:3.5px;color:#4a4945;">Instagram</div>
<svg class="a" style="left:581.96px;top:218.9px;" width="4.8" height="4.8" viewBox="0 0 10 10"><rect width="10" height="10" rx="2.2" fill="#111"/><path d="M2.9 2.7l4.2 4.6M7.1 2.7L2.9 7.3" stroke="#fff" stroke-width=".9"/></svg>
<div class="a t" style="left:587.86px;top:220.8px;font-size:3.5px;line-height:3.5px;color:#4a4945;">X</div>
<svg class="a" style="left:591.9px;top:218.9px;" width="4.8" height="4.8" viewBox="0 0 10 10"><rect width="10" height="10" rx="2.2" fill="#222"/><circle cx="5" cy="5" r="1.4" fill="none" stroke="#fff" stroke-width=".85"/><path d="M6.4 5c0 2.4 1.6 2.2 1.6 0a3 3 0 1 0-1.2 2.4" fill="none" stroke="#fff" stroke-width=".85"/></svg>
<div class="a t" style="left:597.8px;top:220.8px;font-size:3.5px;line-height:3.5px;color:#4a4945;">Threads</div>
<div class="a" style="left:559.2px;top:227.5px;width:24.96px;height:5.2px;background:#dae9f5;border-radius:.8px"></div>
<div class="a t" style="left:560.7px;top:229.21px;font-size:3.35px;line-height:3.35px;color:#2b5478;">Grow email list</div>
<div class="a" style="left:639.1px;top:205.8px;width:75.1px;height:30.3px;background:#fff;border-radius:2px;box-shadow:0 0 0 .5px rgba(15,15,15,.07),0 .6px 1.4px rgba(15,15,15,.08)"></div>
<svg class="a" style="left:642.25px;top:209.75px;" width="4.5" height="4.5" viewBox="0 0 10 10"><path d="M2.3 3.1L8.7.7v8.6L2.3 6.9z" fill="#4a4945"/><rect x=".3" y="3.1" width="2.4" height="3.8" rx=".5" fill="#4a4945"/><path d="M2.2 6.6l.9 3h1.7l-.7-2.6z" fill="#4a4945"/></svg>
<div class="a t" style="left:649.6px;top:210.38px;font-size:4.17px;line-height:4.17px;color:#37352f;">Content Creator OS Launch</div>
<svg class="a" style="left:641.6px;top:218.6px;" width="4.8" height="4.8" viewBox="0 0 10 10"><rect width="10" height="10" rx="2.2" fill="#111"/><path d="M2.9 2.7l4.2 4.6M7.1 2.7L2.9 7.3" stroke="#fff" stroke-width=".9"/></svg>
<div class="a t" style="left:647.5px;top:220.5px;font-size:3.5px;line-height:3.5px;color:#4a4945;">X</div>
<svg class="a" style="left:651.53px;top:218.6px;" width="4.8" height="4.8" viewBox="0 0 10 10"><defs><linearGradient id="igg3" x1="0" y1="1" x2=".3" y2="0"><stop offset="0" stop-color="#fbc94f"/><stop offset=".5" stop-color="#ee3f6d"/><stop offset="1" stop-color="#8c3fd6"/></linearGradient></defs><rect width="10" height="10" rx="2.6" fill="url(#igg3)"/><rect x="2.1" y="2.1" width="5.8" height="5.8" rx="1.8" fill="none" stroke="#fff" stroke-width=".9"/><circle cx="5" cy="5" r="1.4" fill="none" stroke="#fff" stroke-width=".9"/></svg>
<div class="a t" style="left:657.43px;top:220.5px;font-size:3.5px;line-height:3.5px;color:#4a4945;">Instagram</div>
<svg class="a" style="left:674.7px;top:219.32px;" width="4.8" height="3.36" viewBox="0 0 10 7"><rect width="10" height="7" rx="2" fill="#f00"/><path d="M4 2v3l2.6-1.5z" fill="#fff"/></svg>
<div class="a t" style="left:680.6px;top:220.5px;font-size:3.5px;line-height:3.5px;color:#4a4945;">Youtube</div>
<div class="a" style="left:642px;top:227.2px;width:54.76px;height:5.2px;background:#fcebc5;border-radius:.8px"></div>
<div class="a t" style="left:643.5px;top:228.91px;font-size:3.35px;line-height:3.35px;color:#7a5618;">Increase sales of a product/service</div>
<div class="a" style="left:639.1px;top:239.3px;width:75.1px;height:37.2px;background:#fff;border-radius:2px;box-shadow:0 0 0 .5px rgba(15,15,15,.07),0 .6px 1.4px rgba(15,15,15,.08)"></div>
<svg class="a" style="left:642.25px;top:243.25px;" width="4.5" height="4.5" viewBox="0 0 10 10"><path d="M2.3 3.1L8.7.7v8.6L2.3 6.9z" fill="#4a4945"/><rect x=".3" y="3.1" width="2.4" height="3.8" rx=".5" fill="#4a4945"/><path d="M2.2 6.6l.9 3h1.7l-.7-2.6z" fill="#4a4945"/></svg>
<div class="a t" style="left:649.6px;top:243.88px;font-size:4.17px;line-height:4.17px;color:#37352f;">Newsletter Growth Sprint</div>
<svg class="a" style="left:641.6px;top:252.1px;" width="4.8" height="4.8" viewBox="0 0 10 10"><circle cx="5" cy="5" r="5" fill="#2a8bd0"/><path d="M3.1 4.3v3.2M3.1 2.7v.5M4.9 7.5V4.3M4.9 5.7c0-1.6 2.6-1.8 2.6 0v1.8" fill="none" stroke="#fff" stroke-width="1.05"/></svg>
<div class="a t" style="left:647.5px;top:254px;font-size:3.5px;line-height:3.5px;color:#4a4945;">LinkedIn</div>
<svg class="a" style="left:662.43px;top:252.1px;" width="4.8" height="4.8" viewBox="0 0 10 10"><rect width="10" height="10" rx="2.2" fill="#222"/><circle cx="5" cy="5" r="1.4" fill="none" stroke="#fff" stroke-width=".85"/><path d="M6.4 5c0 2.4 1.6 2.2 1.6 0a3 3 0 1 0-1.2 2.4" fill="none" stroke="#fff" stroke-width=".85"/></svg>
<div class="a t" style="left:668.33px;top:254px;font-size:3.5px;line-height:3.5px;color:#4a4945;">Threads</div>
<svg class="a" style="left:682.87px;top:252.1px;" width="4.8" height="4.8" viewBox="0 0 10 10"><defs><linearGradient id="igg4" x1="0" y1="1" x2=".3" y2="0"><stop offset="0" stop-color="#fbc94f"/><stop offset=".5" stop-color="#ee3f6d"/><stop offset="1" stop-color="#8c3fd6"/></linearGradient></defs><rect width="10" height="10" rx="2.6" fill="url(#igg4)"/><rect x="2.1" y="2.1" width="5.8" height="5.8" rx="1.8" fill="none" stroke="#fff" stroke-width=".9"/><circle cx="5" cy="5" r="1.4" fill="none" stroke="#fff" stroke-width=".9"/></svg>
<div class="a t" style="left:688.77px;top:254px;font-size:3.5px;line-height:3.5px;color:#4a4945;">Instagram</div>
<svg class="a" style="left:641.6px;top:258.8px;" width="4.8" height="4.8" viewBox="0 0 10 10"><circle cx="5" cy="5" r="5" fill="#d33d4c"/><path d="M4.5 8.6l1-4M4.1 5.6c-.6-1.8.6-2.8 1.8-2.6 1.6.3 1.6 2.9 0 3.1-.5 0-.8-.2-.9-.5" fill="none" stroke="#fff" stroke-width=".9"/></svg>
<div class="a t" style="left:647.5px;top:260.7px;font-size:3.5px;line-height:3.5px;color:#4a4945;">Pinterest</div>
<div class="a" style="left:642px;top:267.4px;width:44.52px;height:5.2px;background:#dae9f5;border-radius:.8px"></div>
<div class="a t" style="left:643.5px;top:269.11px;font-size:3.35px;line-height:3.35px;color:#2b5478;">Increase newsletter signups</div>
<div class="a" style="left:473.5px;top:238.9px;width:75px;height:11.5px;border-radius:2px;box-shadow:0 0 0 .5px rgba(15,15,15,.05)"></div>
<div class="a t" style="left:478.2px;top:243.15px;font-size:4.4px;line-height:4.4px;color:#bdbcb9;">+</div>
<div class="a t" style="left:483.5px;top:243.01px;font-size:3.97px;line-height:3.97px;color:#bdbcb9;">New page</div>
<div class="a" style="left:556.3px;top:238.9px;width:74.8px;height:11.5px;border-radius:2px;box-shadow:0 0 0 .5px rgba(200,80,130,.10)"></div>
<div class="a t" style="left:561px;top:243.15px;font-size:4.4px;line-height:4.4px;color:#d98bb0;">+</div>
<div class="a t" style="left:566.3px;top:243.01px;font-size:3.97px;line-height:3.97px;color:#d98bb0;">New page</div>
<div class="a" style="left:639.1px;top:278.9px;width:75.1px;height:11.5px;border-radius:2px;box-shadow:0 0 0 .5px rgba(60,120,180,.10)"></div>
<div class="a t" style="left:643.6px;top:282.95px;font-size:4.4px;line-height:4.4px;color:#86aed2;">+</div>
<div class="a t" style="left:649.1px;top:282.81px;font-size:3.97px;line-height:3.97px;color:#86aed2;">New page</div>
<div class="a t" style="left:724.8px;top:197.75px;font-size:4.08px;line-height:4.08px;color:#b0afab;">Hidden groups</div>
<div class="a" style="left:724.2px;top:207.1px;width:26.17px;height:5.6px;background:#d8ecdb;border-radius:2.8px"></div>
<div class="a" style="left:726.3px;top:209.1px;width:1.6px;height:1.6px;background:#4e9c62;border-radius:50%"></div>
<div class="a t" style="left:729.9px;top:208.29px;font-size:4.2px;line-height:4.2px;color:#214a30;-webkit-text-stroke:0px #214a30">Complete</div>
<div class="a t" style="left:755.3px;top:209.06px;font-size:3.5px;line-height:3.5px;color:#a5a4a0;">1</div>
<div class="a" style="left:465.1px;top:302.6px;width:493.1px;height:119.7px;border-radius:2.5px;box-shadow:0 0 0 .6px rgba(15,15,15,.07)"></div>
<div class="a" style="left:470.9px;top:307.9px;width:481.1px;height:20.2px;background:#e7f1f9"></div>
<div class="a t" style="left:477.9px;top:314.6px;font-size:8.65px;line-height:8.65px;color:#3c3b37;-webkit-text-stroke:.36px #3c3b37;letter-spacing:0.12px">Timeline</div>
<svg class="a" style="left:473.3px;top:333.2px;" width="4.8" height="4.8" viewBox="0 0 4.8 4.8"><circle cx="2.4" cy="2.4" r="1.9" fill="none" stroke="#55534e" stroke-width="0.75"/></svg>
<div class="a" style="left:470.9px;top:341.3px;width:481.1px;height:0.5px;background:#efefee"></div>
<div class="a" style="left:470.9px;top:361.4px;width:481px;height:59.2px;background:#fafafa;box-shadow:0 0 0 .5px rgba(15,15,15,.04)"></div>
<div class="a" style="left:470.9px;top:361.2px;width:481.1px;height:0.5px;background:#ededec"></div>
<div class="a" style="left:517.59px;top:361.4px;width:0.5px;height:59.2px;background:#efefee"></div>
<div class="a" style="left:626.06px;top:361.4px;width:0.5px;height:59.2px;background:#efefee"></div>
<div class="a" style="left:724.03px;top:361.4px;width:0.5px;height:59.2px;background:#efefee"></div>
<div class="a" style="left:832.5px;top:361.4px;width:0.5px;height:59.2px;background:#efefee"></div>
<div class="a" style="left:937.47px;top:361.4px;width:0.5px;height:59.2px;background:#efefee"></div>
<div class="a t" style="left:471.8px;top:346.75px;font-size:4.08px;line-height:4.08px;color:#37352f;-webkit-text-stroke:.12px #37352f">December 2024</div>
<div class="a t" style="left:535.49px;top:345.89px;font-size:3.9px;line-height:3.9px;color:#37352f;">January</div>
<div class="a t" style="left:633.46px;top:345.89px;font-size:3.9px;line-height:3.9px;color:#37352f;">February</div>
<div class="a t" style="left:731.43px;top:345.89px;font-size:3.9px;line-height:3.9px;color:#37352f;">March</div>
<div class="a t" style="left:486.4px;top:355.55px;font-size:3.5px;line-height:3.5px;color:#b8b7b3;transform:translateX(-50%) skewX(.06deg);">23</div>
<div class="a t" style="left:510.89px;top:355.55px;font-size:3.5px;line-height:3.5px;color:#b8b7b3;transform:translateX(-50%) skewX(.06deg);">30</div>
<div class="a t" style="left:535.39px;top:355.55px;font-size:3.5px;line-height:3.5px;color:#b8b7b3;transform:translateX(-50%) skewX(.06deg);">6</div>
<div class="a t" style="left:559.88px;top:355.55px;font-size:3.5px;line-height:3.5px;color:#b8b7b3;transform:translateX(-50%) skewX(.06deg);">13</div>
<div class="a t" style="left:584.37px;top:355.55px;font-size:3.5px;line-height:3.5px;color:#b8b7b3;transform:translateX(-50%) skewX(.06deg);">20</div>
<div class="a t" style="left:608.87px;top:355.55px;font-size:3.5px;line-height:3.5px;color:#b8b7b3;transform:translateX(-50%) skewX(.06deg);">27</div>
<div class="a t" style="left:633.36px;top:355.55px;font-size:3.5px;line-height:3.5px;color:#b8b7b3;transform:translateX(-50%) skewX(.06deg);">3</div>
<div class="a t" style="left:657.85px;top:355.55px;font-size:3.5px;line-height:3.5px;color:#b8b7b3;transform:translateX(-50%) skewX(.06deg);">10</div>
<div class="a t" style="left:682.34px;top:355.55px;font-size:3.5px;line-height:3.5px;color:#b8b7b3;transform:translateX(-50%) skewX(.06deg);">17</div>
<div class="a t" style="left:731.33px;top:355.55px;font-size:3.5px;line-height:3.5px;color:#b8b7b3;transform:translateX(-50%) skewX(.06deg);">3</div>
<div class="a t" style="left:755.82px;top:355.55px;font-size:3.5px;line-height:3.5px;color:#b8b7b3;transform:translateX(-50%) skewX(.06deg);">10</div>
<div class="a t" style="left:780.32px;top:355.55px;font-size:3.5px;line-height:3.5px;color:#b8b7b3;transform:translateX(-50%) skewX(.06deg);">17</div>
<div class="a t" style="left:804.81px;top:355.55px;font-size:3.5px;line-height:3.5px;color:#b8b7b3;transform:translateX(-50%) skewX(.06deg);">24</div>
<div class="a t" style="left:829.3px;top:355.55px;font-size:3.5px;line-height:3.5px;color:#b8b7b3;transform:translateX(-50%) skewX(.06deg);">31</div>
<div class="a t" style="left:853.8px;top:355.55px;font-size:3.5px;line-height:3.5px;color:#b8b7b3;transform:translateX(-50%) skewX(.06deg);">7</div>
<div class="a t" style="left:878.29px;top:355.55px;font-size:3.5px;line-height:3.5px;color:#b8b7b3;transform:translateX(-50%) skewX(.06deg);">14</div>
<div class="a t" style="left:902.78px;top:355.55px;font-size:3.5px;line-height:3.5px;color:#b8b7b3;transform:translateX(-50%) skewX(.06deg);">21</div>
<div class="a t" style="left:927.27px;top:355.55px;font-size:3.5px;line-height:3.5px;color:#b8b7b3;transform:translateX(-50%) skewX(.06deg);">28</div>
<div class="a t" style="left:951.77px;top:355.55px;font-size:3.5px;line-height:3.5px;color:#b8b7b3;transform:translateX(-50%) skewX(.06deg);">5</div>
<div class="a" style="left:711.15px;top:361.6px;width:0.65px;height:60.6px;background:#e5625a"></div>
<div class="a" style="left:710.4px;top:360.9px;width:2.2px;height:2.2px;background:#e3564c;border-radius:50%"></div>
<div class="a" style="left:706.7px;top:353.2px;width:6.2px;height:6.2px;background:#e3564c;border-radius:50%"></div>
<div class="a t" style="left:709.8px;top:355.29px;font-size:3px;line-height:3px;color:#fff;transform:translateX(-50%) skewX(.06deg);font-weight:bold;">25</div>
<div class="a t" style="right:-706.4px;top:355.55px;font-size:3.5px;line-height:3.5px;color:#b8b7b3;">2</div>
<div class="a" style="left:856px;top:344.6px;width:45.3px;height:7.6px;border-radius:1.6px;box-shadow:0 0 0 .5px rgba(15,15,15,.1)"></div>
<svg class="a" style="left:859.7px;top:346.2px;" width="4.2" height="4.2" viewBox="0 0 10 10"><rect x=".3" y=".8" width="9.4" height="9" rx="1.4" fill="#e3584e"/><path d="M.3 3.4h9.4M3.5 3.4v6.4M6.5 3.4v6.4M.3 6.6h9.4" stroke="#fff" stroke-width=".6" opacity=".8"/></svg>
<div class="a t" style="left:866px;top:346.54px;font-size:4.07px;line-height:4.07px;color:#37352f;-webkit-text-stroke:.12px #37352f">Open in Calendar</div>
<div class="a t" style="left:905.4px;top:346.65px;font-size:4.1px;line-height:4.1px;color:#b0afab;">Quarter</div>
<svg class="a" style="left:920.6px;top:347.4px;" width="2.4" height="2" viewBox="0 0 6 4"><path d="M.8.8L3 3 5.2.8" fill="none" stroke="#b0afab" stroke-width=".9"/></svg>
<svg class="a" style="left:928.2px;top:346.7px;" width="2" height="3.4" viewBox="0 0 4 6"><path d="M3 .6L1 3l2 2.4" fill="none" stroke="#b0afab" stroke-width=".9"/></svg>
<div class="a t" style="left:934px;top:347.55px;font-size:3.78px;line-height:3.78px;color:#55534e;">Today</div>
<svg class="a" style="left:949.2px;top:346.7px;" width="2" height="3.4" viewBox="0 0 4 6"><path d="M1 .6L3 3 1 5.4" fill="none" stroke="#b0afab" stroke-width=".9"/></svg>
<div class="a" style="left:739px;top:361.4px;width:36.8px;height:9.4px;background:#fff;border-radius:2px;box-shadow:0 0 0 .5px rgba(15,15,15,.07),0 .5px 1.2px rgba(15,15,15,.06)"></div>
<svg class="a" style="left:741.9px;top:363.9px;" width="4.4" height="4.4" viewBox="0 0 10 10"><path d="M2.3 3.1L8.7.7v8.6L2.3 6.9z" fill="#4a4945"/><rect x=".3" y="3.1" width="2.4" height="3.8" rx=".5" fill="#4a4945"/><path d="M2.2 6.6l.9 3h1.7l-.7-2.6z" fill="#4a4945"/></svg>
<div class="a t" style="left:748.7px;top:364.46px;font-size:4.12px;line-height:4.12px;color:#37352f;">Notion for Creators Awareness</div>
<svg class="a" style="left:807.82px;top:363.45px;" width="5.3" height="5.3" viewBox="0 0 10 10"><circle cx="5" cy="5" r="5" fill="#2a8bd0"/><path d="M3.1 4.3v3.2M3.1 2.7v.5M4.9 7.5V4.3M4.9 5.7c0-1.6 2.6-1.8 2.6 0v1.8" fill="none" stroke="#fff" stroke-width="1.05"/></svg>
<div class="a t" style="left:814.62px;top:364.79px;font-size:4.05px;line-height:4.05px;color:#37352f;">LinkedIn</div>
<svg class="a" style="left:831.93px;top:363.45px;" width="5.3" height="5.3" viewBox="0 0 10 10"><defs><linearGradient id="igg5" x1="0" y1="1" x2=".3" y2="0"><stop offset="0" stop-color="#fbc94f"/><stop offset=".5" stop-color="#ee3f6d"/><stop offset="1" stop-color="#8c3fd6"/></linearGradient></defs><rect width="10" height="10" rx="2.6" fill="url(#igg5)"/><rect x="2.1" y="2.1" width="5.8" height="5.8" rx="1.8" fill="none" stroke="#fff" stroke-width=".9"/><circle cx="5" cy="5" r="1.4" fill="none" stroke="#fff" stroke-width=".9"/></svg>
<div class="a t" style="left:838.73px;top:364.79px;font-size:4.05px;line-height:4.05px;color:#37352f;">Instagram</div>
<svg class="a" style="left:858.74px;top:363.45px;" width="5.3" height="5.3" viewBox="0 0 10 10"><circle cx="5" cy="5" r="5" fill="#d33d4c"/><path d="M4.5 8.6l1-4M4.1 5.6c-.6-1.8.6-2.8 1.8-2.6 1.6.3 1.6 2.9 0 3.1-.5 0-.8-.2-.9-.5" fill="none" stroke="#fff" stroke-width=".9"/></svg>
<div class="a t" style="left:865.54px;top:364.79px;font-size:4.05px;line-height:4.05px;color:#37352f;">Pinterest</div>
<div class="a" style="left:884.52px;top:363.5px;width:16.41px;height:5.2px;background:#e5e4e1;border-radius:2.6px"></div>
<div class="a" style="left:887.72px;top:365.3px;width:1.6px;height:1.6px;background:#8f8e8a;border-radius:50%"></div>
<div class="a t" style="left:890.92px;top:365.27px;font-size:3.55px;line-height:3.55px;color:#37352f;-webkit-text-stroke:0px #37352f">Idea</div>
<div class="a" style="left:725px;top:371px;width:31px;height:9.4px;background:#fff;border-radius:2px;box-shadow:0 0 0 .5px rgba(15,15,15,.07),0 .5px 1.2px rgba(15,15,15,.06)"></div>
<svg class="a" style="left:727.9px;top:373.5px;" width="4.4" height="4.4" viewBox="0 0 10 10"><path d="M2.3 3.1L8.7.7v8.6L2.3 6.9z" fill="#4a4945"/><rect x=".3" y="3.1" width="2.4" height="3.8" rx=".5" fill="#4a4945"/><path d="M2.2 6.6l.9 3h1.7l-.7-2.6z" fill="#4a4945"/></svg>
<div class="a t" style="left:734.7px;top:374.06px;font-size:4.12px;line-height:4.12px;color:#37352f;">Free Notion Resources Promo</div>
<svg class="a" style="left:793.14px;top:373.05px;" width="5.3" height="5.3" viewBox="0 0 10 10"><defs><linearGradient id="igg6" x1="0" y1="1" x2=".3" y2="0"><stop offset="0" stop-color="#fbc94f"/><stop offset=".5" stop-color="#ee3f6d"/><stop offset="1" stop-color="#8c3fd6"/></linearGradient></defs><rect width="10" height="10" rx="2.6" fill="url(#igg6)"/><rect x="2.1" y="2.1" width="5.8" height="5.8" rx="1.8" fill="none" stroke="#fff" stroke-width=".9"/><circle cx="5" cy="5" r="1.4" fill="none" stroke="#fff" stroke-width=".9"/></svg>
<div class="a t" style="left:799.94px;top:374.39px;font-size:4.05px;line-height:4.05px;color:#37352f;">Instagram</div>
<svg class="a" style="left:819.94px;top:373.05px;" width="5.3" height="5.3" viewBox="0 0 10 10"><rect width="10" height="10" rx="2.2" fill="#111"/><path d="M2.9 2.7l4.2 4.6M7.1 2.7L2.9 7.3" stroke="#fff" stroke-width=".9"/></svg>
<div class="a t" style="left:826.74px;top:374.39px;font-size:4.05px;line-height:4.05px;color:#37352f;">X</div>
<svg class="a" style="left:831.44px;top:373.05px;" width="5.3" height="5.3" viewBox="0 0 10 10"><rect width="10" height="10" rx="2.2" fill="#222"/><circle cx="5" cy="5" r="1.4" fill="none" stroke="#fff" stroke-width=".85"/><path d="M6.4 5c0 2.4 1.6 2.2 1.6 0a3 3 0 1 0-1.2 2.4" fill="none" stroke="#fff" stroke-width=".85"/></svg>
<div class="a t" style="left:838.24px;top:374.39px;font-size:4.05px;line-height:4.05px;color:#37352f;">Threads</div>
<div class="a" style="left:856.1px;top:373.1px;width:26.27px;height:5.2px;background:#f9dfea;border-radius:2.6px"></div>
<div class="a" style="left:859.3px;top:374.9px;width:1.6px;height:1.6px;background:#d2488a;border-radius:50%"></div>
<div class="a t" style="left:862.5px;top:374.87px;font-size:3.55px;line-height:3.55px;color:#5a2440;-webkit-text-stroke:0px #5a2440">Scheduled</div>
<div class="a" style="left:693.7px;top:380.8px;width:48px;height:9.4px;background:#fff;border-radius:2px;box-shadow:0 0 0 .5px rgba(15,15,15,.07),0 .5px 1.2px rgba(15,15,15,.06)"></div>
<svg class="a" style="left:696.6px;top:383.3px;" width="4.4" height="4.4" viewBox="0 0 10 10"><path d="M2.3 3.1L8.7.7v8.6L2.3 6.9z" fill="#4a4945"/><rect x=".3" y="3.1" width="2.4" height="3.8" rx=".5" fill="#4a4945"/><path d="M2.2 6.6l.9 3h1.7l-.7-2.6z" fill="#4a4945"/></svg>
<div class="a t" style="left:703.4px;top:383.86px;font-size:4.12px;line-height:4.12px;color:#37352f;">Newsletter Growth Sprint</div>
<svg class="a" style="left:751.99px;top:382.85px;" width="5.3" height="5.3" viewBox="0 0 10 10"><circle cx="5" cy="5" r="5" fill="#2a8bd0"/><path d="M3.1 4.3v3.2M3.1 2.7v.5M4.9 7.5V4.3M4.9 5.7c0-1.6 2.6-1.8 2.6 0v1.8" fill="none" stroke="#fff" stroke-width="1.05"/></svg>
<div class="a t" style="left:758.79px;top:384.19px;font-size:4.05px;line-height:4.05px;color:#37352f;">LinkedIn</div>
<svg class="a" style="left:776.1px;top:382.85px;" width="5.3" height="5.3" viewBox="0 0 10 10"><rect width="10" height="10" rx="2.2" fill="#222"/><circle cx="5" cy="5" r="1.4" fill="none" stroke="#fff" stroke-width=".85"/><path d="M6.4 5c0 2.4 1.6 2.2 1.6 0a3 3 0 1 0-1.2 2.4" fill="none" stroke="#fff" stroke-width=".85"/></svg>
<div class="a t" style="left:782.9px;top:384.19px;font-size:4.05px;line-height:4.05px;color:#37352f;">Threads</div>
<svg class="a" style="left:799.75px;top:382.85px;" width="5.3" height="5.3" viewBox="0 0 10 10"><defs><linearGradient id="igg7" x1="0" y1="1" x2=".3" y2="0"><stop offset="0" stop-color="#fbc94f"/><stop offset=".5" stop-color="#ee3f6d"/><stop offset="1" stop-color="#8c3fd6"/></linearGradient></defs><rect width="10" height="10" rx="2.6" fill="url(#igg7)"/><rect x="2.1" y="2.1" width="5.8" height="5.8" rx="1.8" fill="none" stroke="#fff" stroke-width=".9"/><circle cx="5" cy="5" r="1.4" fill="none" stroke="#fff" stroke-width=".9"/></svg>
<div class="a t" style="left:806.55px;top:384.19px;font-size:4.05px;line-height:4.05px;color:#37352f;">Instagram</div>
<svg class="a" style="left:826.56px;top:382.85px;" width="5.3" height="5.3" viewBox="0 0 10 10"><circle cx="5" cy="5" r="5" fill="#d33d4c"/><path d="M4.5 8.6l1-4M4.1 5.6c-.6-1.8.6-2.8 1.8-2.6 1.6.3 1.6 2.9 0 3.1-.5 0-.8-.2-.9-.5" fill="none" stroke="#fff" stroke-width=".9"/></svg>
<div class="a t" style="left:833.36px;top:384.19px;font-size:4.05px;line-height:4.05px;color:#37352f;">Pinterest</div>
<div class="a" style="left:852.34px;top:382.9px;width:27.26px;height:5.2px;background:#d5e6f3;border-radius:2.6px"></div>
<div class="a" style="left:855.54px;top:384.7px;width:1.6px;height:1.6px;background:#3f89c8;border-radius:50%"></div>
<div class="a t" style="left:858.74px;top:384.67px;font-size:3.55px;line-height:3.55px;color:#1f3f5c;-webkit-text-stroke:0px #1f3f5c">In progress</div>
<div class="a" style="left:658.5px;top:390.3px;width:65px;height:9.4px;background:#fff;border-radius:2px;box-shadow:0 0 0 .5px rgba(15,15,15,.07),0 .5px 1.2px rgba(15,15,15,.06)"></div>
<svg class="a" style="left:661.4px;top:392.8px;" width="4.4" height="4.4" viewBox="0 0 10 10"><path d="M2.3 3.1L8.7.7v8.6L2.3 6.9z" fill="#4a4945"/><rect x=".3" y="3.1" width="2.4" height="3.8" rx=".5" fill="#4a4945"/><path d="M2.2 6.6l.9 3h1.7l-.7-2.6z" fill="#4a4945"/></svg>
<div class="a t" style="left:668.2px;top:393.36px;font-size:4.12px;line-height:4.12px;color:#37352f;">Content Creator OS Launch</div>
<svg class="a" style="left:722.07px;top:392.35px;" width="5.3" height="5.3" viewBox="0 0 10 10"><rect width="10" height="10" rx="2.2" fill="#111"/><path d="M2.9 2.7l4.2 4.6M7.1 2.7L2.9 7.3" stroke="#fff" stroke-width=".9"/></svg>
<div class="a t" style="left:728.87px;top:393.69px;font-size:4.05px;line-height:4.05px;color:#37352f;">X</div>
<svg class="a" style="left:733.57px;top:392.35px;" width="5.3" height="5.3" viewBox="0 0 10 10"><defs><linearGradient id="igg8" x1="0" y1="1" x2=".3" y2="0"><stop offset="0" stop-color="#fbc94f"/><stop offset=".5" stop-color="#ee3f6d"/><stop offset="1" stop-color="#8c3fd6"/></linearGradient></defs><rect width="10" height="10" rx="2.6" fill="url(#igg8)"/><rect x="2.1" y="2.1" width="5.8" height="5.8" rx="1.8" fill="none" stroke="#fff" stroke-width=".9"/><circle cx="5" cy="5" r="1.4" fill="none" stroke="#fff" stroke-width=".9"/></svg>
<div class="a t" style="left:740.37px;top:393.69px;font-size:4.05px;line-height:4.05px;color:#37352f;">Instagram</div>
<svg class="a" style="left:760.38px;top:393.15px;" width="5.3" height="3.71" viewBox="0 0 10 7"><rect width="10" height="7" rx="2" fill="#f00"/><path d="M4 2v3l2.6-1.5z" fill="#fff"/></svg>
<div class="a t" style="left:767.18px;top:393.69px;font-size:4.05px;line-height:4.05px;color:#37352f;">Youtube</div>
<div class="a" style="left:785.26px;top:392.4px;width:27.26px;height:5.2px;background:#d5e6f3;border-radius:2.6px"></div>
<div class="a" style="left:788.46px;top:394.2px;width:1.6px;height:1.6px;background:#3f89c8;border-radius:50%"></div>
<div class="a t" style="left:791.66px;top:394.17px;font-size:3.55px;line-height:3.55px;color:#1f3f5c;-webkit-text-stroke:0px #1f3f5c">In progress</div>
<div class="a" style="left:519.4px;top:399.7px;width:107px;height:9.4px;background:#fff;border-radius:2px;box-shadow:0 0 0 .5px rgba(15,15,15,.07),0 .5px 1.2px rgba(15,15,15,.06)"></div>
<svg class="a" style="left:522.3px;top:402.2px;" width="4.4" height="4.4" viewBox="0 0 10 10"><path d="M2.3 3.1L8.7.7v8.6L2.3 6.9z" fill="#4a4945"/><rect x=".3" y="3.1" width="2.4" height="3.8" rx=".5" fill="#4a4945"/><path d="M2.2 6.6l.9 3h1.7l-.7-2.6z" fill="#4a4945"/></svg>
<div class="a t" style="left:529.1px;top:402.76px;font-size:4.12px;line-height:4.12px;color:#37352f;">30-Day Content Challenge</div>
<svg class="a" style="left:580.45px;top:401.75px;" width="5.3" height="5.3" viewBox="0 0 10 10"><defs><linearGradient id="igg9" x1="0" y1="1" x2=".3" y2="0"><stop offset="0" stop-color="#fbc94f"/><stop offset=".5" stop-color="#ee3f6d"/><stop offset="1" stop-color="#8c3fd6"/></linearGradient></defs><rect width="10" height="10" rx="2.6" fill="url(#igg9)"/><rect x="2.1" y="2.1" width="5.8" height="5.8" rx="1.8" fill="none" stroke="#fff" stroke-width=".9"/><circle cx="5" cy="5" r="1.4" fill="none" stroke="#fff" stroke-width=".9"/></svg>
<div class="a t" style="left:587.25px;top:403.09px;font-size:4.05px;line-height:4.05px;color:#37352f;">Instagram</div>
<svg class="a" style="left:607.25px;top:401.75px;" width="5.3" height="5.3" viewBox="0 0 10 10"><path d="M5.6 1v5.6a1.7 1.7 0 1 1-1.7-1.7" fill="none" stroke="#25f4ee" stroke-width="1.4" transform="translate(-.5 -.3)"/><path d="M5.6 1v5.6a1.7 1.7 0 1 1-1.7-1.7" fill="none" stroke="#fe2c55" stroke-width="1.4" transform="translate(.5 .3)"/><path d="M5.6 1v5.6a1.7 1.7 0 1 1-1.7-1.7M5.6 1.2c.3 1.2 1.2 2 2.6 2.1" fill="none" stroke="#111" stroke-width="1.4"/></svg>
<div class="a t" style="left:614.05px;top:403.09px;font-size:4.05px;line-height:4.05px;color:#37352f;">Tiktok</div>
<div class="a" style="left:627.85px;top:401.8px;width:24.69px;height:5.2px;background:#d8ecdb;border-radius:2.6px"></div>
<div class="a" style="left:631.05px;top:403.6px;width:1.6px;height:1.6px;background:#4e9c62;border-radius:50%"></div>
<div class="a t" style="left:634.25px;top:403.57px;font-size:3.55px;line-height:3.55px;color:#214a30;-webkit-text-stroke:0px #214a30">Complete</div>
<div class="a t" style="left:473.2px;top:412.72px;font-size:4.6px;line-height:4.6px;color:#b4b3b0;">+</div>
<div class="a t" style="left:479px;top:412.52px;font-size:4px;line-height:4px;color:#b4b3b0;">New</div>
<div class="a" style="left:465.1px;top:427px;width:493.1px;height:103px;border-radius:2.5px;box-shadow:0 0 0 .6px rgba(15,15,15,.07)"></div>
<div class="a" style="left:470.9px;top:431.6px;width:481.1px;height:20.1px;background:#e7f1f9"></div>
<div class="a t" style="left:478px;top:438.1px;font-size:8.65px;line-height:8.65px;color:#3c3b37;-webkit-text-stroke:.36px #3c3b37;letter-spacing:0px">Overview</div>
<svg class="a" style="left:473.5px;top:457.3px;" width="4.4" height="4.4" viewBox="0 0 10 10"><path d="M2.3 3.1L8.7.7v8.6L2.3 6.9z" fill="#4a4945"/><rect x=".3" y="3.1" width="2.4" height="3.8" rx=".5" fill="#4a4945"/><path d="M2.2 6.6l.9 3h1.7l-.7-2.6z" fill="#4a4945"/></svg>
<div class="a t" style="left:480px;top:457.95px;font-size:4.08px;line-height:4.08px;color:#37352f;-webkit-text-stroke:.12px #37352f">All Campaigns</div>
<svg class="a" style="left:511.6px;top:457.2px;" width="3.4" height="4.6" viewBox="0 0 6 8"><path d="M3 7.6C1.5 5.5.6 4.2.6 3a2.4 2.4 0 0 1 4.8 0c0 1.2-.9 2.5-2.4 4.6z" fill="none" stroke="#7e7d79" stroke-width="1"/><circle cx="3" cy="3" r="1" fill="#7e7d79"/></svg>
<div class="a t" style="left:517.3px;top:457.91px;font-size:3.97px;line-height:3.97px;color:#a5a4a0;">Ideas</div>
<svg class="a" style="left:531.8px;top:457.4px;" width="4.4" height="4.2" viewBox="0 0 10 9"><rect x=".5" y=".5" width="9" height="8" rx="1" fill="#6f6e6a"/><path d="M.5 3.4h9M3.6 3.4v5.1" stroke="#fff" stroke-width=".9"/></svg>
<div class="a t" style="left:538.2px;top:457.95px;font-size:4.1px;line-height:4.1px;color:#a5a4a0;">Scheduled</div>
<svg class="a" style="left:562.3px;top:457.3px;" width="4.5" height="4.5" viewBox="0 0 10 10"><circle cx="5" cy="5" r="4.4" fill="none" stroke="#5f5e5a" stroke-width="1.1"/><path d="M5 .6A4.4 4.4 0 0 1 5 9.4z" fill="#5f5e5a"/></svg>
<div class="a t" style="left:568.8px;top:457.91px;font-size:3.97px;line-height:3.97px;color:#a5a4a0;">In Progress</div>
<svg class="a" style="left:594px;top:457.3px;" width="4.6" height="4.6" viewBox="0 0 10 10"><circle cx="5" cy="5" r="5" fill="#5f5e5a"/><path d="M2.8 5.2l1.5 1.5 3-3.2" fill="none" stroke="#fff" stroke-width="1.2"/></svg>
<div class="a t" style="left:600.3px;top:458.02px;font-size:4.3px;line-height:4.3px;color:#a5a4a0;">Complete</div>
<div class="a" style="left:471px;top:464.1px;width:37.7px;height:1.1px;background:#5a5955"></div>
<div class="a" style="left:470.9px;top:465.2px;width:481.1px;height:0.5px;background:#efefee"></div>
<svg class="a" style="left:473.3px;top:469.1px;" width="4.6" height="4.6" viewBox="0 0 10 10"><path d="M2.3 3.1L8.7.7v8.6L2.3 6.9z" fill="#4a4945"/><rect x=".3" y="3.1" width="2.4" height="3.8" rx=".5" fill="#4a4945"/><path d="M2.2 6.6l.9 3h1.7l-.7-2.6z" fill="#4a4945"/></svg>
<div class="a t" style="left:480.3px;top:469.96px;font-size:4.73px;line-height:4.73px;color:#37352f;-webkit-text-stroke:.12px #37352f">Notion for Creators Awareness</div>
<div class="a" style="left:933.29px;top:468.8px;width:16.41px;height:5.2px;background:#e5e4e1;border-radius:2.6px"></div>
<div class="a" style="left:936.49px;top:470.6px;width:1.6px;height:1.6px;background:#8f8e8a;border-radius:50%"></div>
<div class="a t" style="left:939.69px;top:470.57px;font-size:3.55px;line-height:3.55px;color:#37352f;-webkit-text-stroke:0px #37352f">Idea</div>
<svg class="a" style="left:854.14px;top:468.65px;" width="5.5" height="5.5" viewBox="0 0 10 10"><circle cx="5" cy="5" r="5" fill="#2a8bd0"/><path d="M3.1 4.3v3.2M3.1 2.7v.5M4.9 7.5V4.3M4.9 5.7c0-1.6 2.6-1.8 2.6 0v1.8" fill="none" stroke="#fff" stroke-width="1.05"/></svg>
<div class="a t" style="left:861.19px;top:470.1px;font-size:4.1px;line-height:4.1px;color:#37352f;">LinkedIn</div>
<svg class="a" style="left:878.43px;top:468.65px;" width="5.5" height="5.5" viewBox="0 0 10 10"><defs><linearGradient id="igg10" x1="0" y1="1" x2=".3" y2="0"><stop offset="0" stop-color="#fbc94f"/><stop offset=".5" stop-color="#ee3f6d"/><stop offset="1" stop-color="#8c3fd6"/></linearGradient></defs><rect width="10" height="10" rx="2.6" fill="url(#igg10)"/><rect x="2.1" y="2.1" width="5.8" height="5.8" rx="1.8" fill="none" stroke="#fff" stroke-width=".9"/><circle cx="5" cy="5" r="1.4" fill="none" stroke="#fff" stroke-width=".9"/></svg>
<div class="a t" style="left:885.48px;top:470.1px;font-size:4.1px;line-height:4.1px;color:#37352f;">Instagram</div>
<svg class="a" style="left:905.46px;top:468.65px;" width="5.5" height="5.5" viewBox="0 0 10 10"><circle cx="5" cy="5" r="5" fill="#d33d4c"/><path d="M4.5 8.6l1-4M4.1 5.6c-.6-1.8.6-2.8 1.8-2.6 1.6.3 1.6 2.9 0 3.1-.5 0-.8-.2-.9-.5" fill="none" stroke="#fff" stroke-width=".9"/></svg>
<div class="a t" style="left:912.51px;top:470.1px;font-size:4.1px;line-height:4.1px;color:#37352f;">Pinterest</div>
<div class="a" style="left:809.12px;top:468.8px;width:40.82px;height:5.2px;background:#fde2df;border-radius:.8px"></div>
<div class="a t" style="left:811.22px;top:470.59px;font-size:3.6px;line-height:3.6px;color:#8e3b35;">Build brand awareness</div>
<svg class="a" style="left:473.3px;top:478.15px;" width="4.6" height="4.6" viewBox="0 0 10 10"><path d="M2.3 3.1L8.7.7v8.6L2.3 6.9z" fill="#4a4945"/><rect x=".3" y="3.1" width="2.4" height="3.8" rx=".5" fill="#4a4945"/><path d="M2.2 6.6l.9 3h1.7l-.7-2.6z" fill="#4a4945"/></svg>
<div class="a t" style="left:480.3px;top:479.01px;font-size:4.73px;line-height:4.73px;color:#37352f;-webkit-text-stroke:.12px #37352f">Free Notion Resources Promo</div>
<div class="a" style="left:923.43px;top:477.85px;width:26.27px;height:5.2px;background:#f9dfea;border-radius:2.6px"></div>
<div class="a" style="left:926.63px;top:479.65px;width:1.6px;height:1.6px;background:#d2488a;border-radius:50%"></div>
<div class="a t" style="left:929.83px;top:479.62px;font-size:3.55px;line-height:3.55px;color:#5a2440;-webkit-text-stroke:0px #5a2440">Scheduled</div>
<svg class="a" style="left:858.17px;top:477.7px;" width="5.5" height="5.5" viewBox="0 0 10 10"><defs><linearGradient id="igg11" x1="0" y1="1" x2=".3" y2="0"><stop offset="0" stop-color="#fbc94f"/><stop offset=".5" stop-color="#ee3f6d"/><stop offset="1" stop-color="#8c3fd6"/></linearGradient></defs><rect width="10" height="10" rx="2.6" fill="url(#igg11)"/><rect x="2.1" y="2.1" width="5.8" height="5.8" rx="1.8" fill="none" stroke="#fff" stroke-width=".9"/><circle cx="5" cy="5" r="1.4" fill="none" stroke="#fff" stroke-width=".9"/></svg>
<div class="a t" style="left:865.22px;top:479.15px;font-size:4.1px;line-height:4.1px;color:#37352f;">Instagram</div>
<svg class="a" style="left:885.2px;top:477.7px;" width="5.5" height="5.5" viewBox="0 0 10 10"><rect width="10" height="10" rx="2.2" fill="#111"/><path d="M2.9 2.7l4.2 4.6M7.1 2.7L2.9 7.3" stroke="#fff" stroke-width=".9"/></svg>
<div class="a t" style="left:892.25px;top:479.15px;font-size:4.1px;line-height:4.1px;color:#37352f;">X</div>
<svg class="a" style="left:896.74px;top:477.7px;" width="5.5" height="5.5" viewBox="0 0 10 10"><rect width="10" height="10" rx="2.2" fill="#222"/><circle cx="5" cy="5" r="1.4" fill="none" stroke="#fff" stroke-width=".85"/><path d="M6.4 5c0 2.4 1.6 2.2 1.6 0a3 3 0 1 0-1.2 2.4" fill="none" stroke="#fff" stroke-width=".85"/></svg>
<div class="a t" style="left:903.79px;top:479.15px;font-size:4.1px;line-height:4.1px;color:#37352f;">Threads</div>
<div class="a" style="left:826.17px;top:477.85px;width:27.8px;height:5.2px;background:#dae9f5;border-radius:.8px"></div>
<div class="a t" style="left:828.27px;top:479.64px;font-size:3.6px;line-height:3.6px;color:#2b5478;">Grow email list</div>
<svg class="a" style="left:473.3px;top:487.2px;" width="4.6" height="4.6" viewBox="0 0 10 10"><path d="M2.3 3.1L8.7.7v8.6L2.3 6.9z" fill="#4a4945"/><rect x=".3" y="3.1" width="2.4" height="3.8" rx=".5" fill="#4a4945"/><path d="M2.2 6.6l.9 3h1.7l-.7-2.6z" fill="#4a4945"/></svg>
<div class="a t" style="left:480.3px;top:488.06px;font-size:4.73px;line-height:4.73px;color:#37352f;-webkit-text-stroke:.12px #37352f">Newsletter Growth Sprint</div>
<div class="a" style="left:922.44px;top:486.9px;width:27.26px;height:5.2px;background:#d5e6f3;border-radius:2.6px"></div>
<div class="a" style="left:925.64px;top:488.7px;width:1.6px;height:1.6px;background:#3f89c8;border-radius:50%"></div>
<div class="a t" style="left:928.84px;top:488.67px;font-size:3.55px;line-height:3.55px;color:#1f3f5c;-webkit-text-stroke:0px #1f3f5c">In progress</div>
<svg class="a" style="left:819.45px;top:486.75px;" width="5.5" height="5.5" viewBox="0 0 10 10"><circle cx="5" cy="5" r="5" fill="#2a8bd0"/><path d="M3.1 4.3v3.2M3.1 2.7v.5M4.9 7.5V4.3M4.9 5.7c0-1.6 2.6-1.8 2.6 0v1.8" fill="none" stroke="#fff" stroke-width="1.05"/></svg>
<div class="a t" style="left:826.5px;top:488.2px;font-size:4.1px;line-height:4.1px;color:#37352f;">LinkedIn</div>
<svg class="a" style="left:843.75px;top:486.75px;" width="5.5" height="5.5" viewBox="0 0 10 10"><rect width="10" height="10" rx="2.2" fill="#222"/><circle cx="5" cy="5" r="1.4" fill="none" stroke="#fff" stroke-width=".85"/><path d="M6.4 5c0 2.4 1.6 2.2 1.6 0a3 3 0 1 0-1.2 2.4" fill="none" stroke="#fff" stroke-width=".85"/></svg>
<div class="a t" style="left:850.8px;top:488.2px;font-size:4.1px;line-height:4.1px;color:#37352f;">Threads</div>
<svg class="a" style="left:867.59px;top:486.75px;" width="5.5" height="5.5" viewBox="0 0 10 10"><defs><linearGradient id="igg12" x1="0" y1="1" x2=".3" y2="0"><stop offset="0" stop-color="#fbc94f"/><stop offset=".5" stop-color="#ee3f6d"/><stop offset="1" stop-color="#8c3fd6"/></linearGradient></defs><rect width="10" height="10" rx="2.6" fill="url(#igg12)"/><rect x="2.1" y="2.1" width="5.8" height="5.8" rx="1.8" fill="none" stroke="#fff" stroke-width=".9"/><circle cx="5" cy="5" r="1.4" fill="none" stroke="#fff" stroke-width=".9"/></svg>
<div class="a t" style="left:874.64px;top:488.2px;font-size:4.1px;line-height:4.1px;color:#37352f;">Instagram</div>
<svg class="a" style="left:894.61px;top:486.75px;" width="5.5" height="5.5" viewBox="0 0 10 10"><circle cx="5" cy="5" r="5" fill="#d33d4c"/><path d="M4.5 8.6l1-4M4.1 5.6c-.6-1.8.6-2.8 1.8-2.6 1.6.3 1.6 2.9 0 3.1-.5 0-.8-.2-.9-.5" fill="none" stroke="#fff" stroke-width=".9"/></svg>
<div class="a t" style="left:901.66px;top:488.2px;font-size:4.1px;line-height:4.1px;color:#37352f;">Pinterest</div>
<div class="a" style="left:766.43px;top:486.9px;width:48.82px;height:5.2px;background:#dae9f5;border-radius:.8px"></div>
<div class="a t" style="left:768.53px;top:488.69px;font-size:3.6px;line-height:3.6px;color:#2b5478;">Increase newsletter signups</div>
<svg class="a" style="left:473.3px;top:496.25px;" width="4.6" height="4.6" viewBox="0 0 10 10"><path d="M2.3 3.1L8.7.7v8.6L2.3 6.9z" fill="#4a4945"/><rect x=".3" y="3.1" width="2.4" height="3.8" rx=".5" fill="#4a4945"/><path d="M2.2 6.6l.9 3h1.7l-.7-2.6z" fill="#4a4945"/></svg>
<div class="a t" style="left:480.3px;top:497.11px;font-size:4.73px;line-height:4.73px;color:#37352f;-webkit-text-stroke:.12px #37352f">Content Creator OS Launch</div>
<div class="a" style="left:922.44px;top:495.95px;width:27.26px;height:5.2px;background:#d5e6f3;border-radius:2.6px"></div>
<div class="a" style="left:925.64px;top:497.75px;width:1.6px;height:1.6px;background:#3f89c8;border-radius:50%"></div>
<div class="a t" style="left:928.84px;top:497.72px;font-size:3.55px;line-height:3.55px;color:#1f3f5c;-webkit-text-stroke:0px #1f3f5c">In progress</div>
<svg class="a" style="left:856.96px;top:495.8px;" width="5.5" height="5.5" viewBox="0 0 10 10"><rect width="10" height="10" rx="2.2" fill="#111"/><path d="M2.9 2.7l4.2 4.6M7.1 2.7L2.9 7.3" stroke="#fff" stroke-width=".9"/></svg>
<div class="a t" style="left:864.01px;top:497.25px;font-size:4.1px;line-height:4.1px;color:#37352f;">X</div>
<svg class="a" style="left:868.49px;top:495.8px;" width="5.5" height="5.5" viewBox="0 0 10 10"><defs><linearGradient id="igg13" x1="0" y1="1" x2=".3" y2="0"><stop offset="0" stop-color="#fbc94f"/><stop offset=".5" stop-color="#ee3f6d"/><stop offset="1" stop-color="#8c3fd6"/></linearGradient></defs><rect width="10" height="10" rx="2.6" fill="url(#igg13)"/><rect x="2.1" y="2.1" width="5.8" height="5.8" rx="1.8" fill="none" stroke="#fff" stroke-width=".9"/><circle cx="5" cy="5" r="1.4" fill="none" stroke="#fff" stroke-width=".9"/></svg>
<div class="a t" style="left:875.54px;top:497.25px;font-size:4.1px;line-height:4.1px;color:#37352f;">Instagram</div>
<svg class="a" style="left:895.52px;top:496.62px;" width="5.5" height="3.85" viewBox="0 0 10 7"><rect width="10" height="7" rx="2" fill="#f00"/><path d="M4 2v3l2.6-1.5z" fill="#fff"/></svg>
<div class="a t" style="left:902.57px;top:497.25px;font-size:4.1px;line-height:4.1px;color:#37352f;">Youtube</div>
<div class="a" style="left:792.93px;top:495.95px;width:59.82px;height:5.2px;background:#fcebc5;border-radius:.8px"></div>
<div class="a t" style="left:795.03px;top:497.74px;font-size:3.6px;line-height:3.6px;color:#7a5618;">Increase sales of a product/service</div>
<svg class="a" style="left:473.3px;top:505.3px;" width="4.6" height="4.6" viewBox="0 0 10 10"><path d="M2.3 3.1L8.7.7v8.6L2.3 6.9z" fill="#4a4945"/><rect x=".3" y="3.1" width="2.4" height="3.8" rx=".5" fill="#4a4945"/><path d="M2.2 6.6l.9 3h1.7l-.7-2.6z" fill="#4a4945"/></svg>
<div class="a t" style="left:480.3px;top:506.16px;font-size:4.73px;line-height:4.73px;color:#37352f;-webkit-text-stroke:.12px #37352f">30-Day Content Challenge</div>
<div class="a" style="left:925.01px;top:505px;width:24.69px;height:5.2px;background:#d8ecdb;border-radius:2.6px"></div>
<div class="a" style="left:928.21px;top:506.8px;width:1.6px;height:1.6px;background:#4e9c62;border-radius:50%"></div>
<div class="a t" style="left:931.41px;top:506.77px;font-size:3.55px;line-height:3.55px;color:#214a30;-webkit-text-stroke:0px #214a30">Complete</div>
<svg class="a" style="left:875.4px;top:504.85px;" width="5.5" height="5.5" viewBox="0 0 10 10"><defs><linearGradient id="igg14" x1="0" y1="1" x2=".3" y2="0"><stop offset="0" stop-color="#fbc94f"/><stop offset=".5" stop-color="#ee3f6d"/><stop offset="1" stop-color="#8c3fd6"/></linearGradient></defs><rect width="10" height="10" rx="2.6" fill="url(#igg14)"/><rect x="2.1" y="2.1" width="5.8" height="5.8" rx="1.8" fill="none" stroke="#fff" stroke-width=".9"/><circle cx="5" cy="5" r="1.4" fill="none" stroke="#fff" stroke-width=".9"/></svg>
<div class="a t" style="left:882.45px;top:506.3px;font-size:4.1px;line-height:4.1px;color:#37352f;">Instagram</div>
<svg class="a" style="left:902.42px;top:504.85px;" width="5.5" height="5.5" viewBox="0 0 10 10"><path d="M5.6 1v5.6a1.7 1.7 0 1 1-1.7-1.7" fill="none" stroke="#25f4ee" stroke-width="1.4" transform="translate(-.5 -.3)"/><path d="M5.6 1v5.6a1.7 1.7 0 1 1-1.7-1.7" fill="none" stroke="#fe2c55" stroke-width="1.4" transform="translate(.5 .3)"/><path d="M5.6 1v5.6a1.7 1.7 0 1 1-1.7-1.7M5.6 1.2c.3 1.2 1.2 2 2.6 2.1" fill="none" stroke="#111" stroke-width="1.4"/></svg>
<div class="a t" style="left:909.47px;top:506.3px;font-size:4.1px;line-height:4.1px;color:#37352f;">Tiktok</div>
<div class="a" style="left:817.78px;top:505px;width:53.42px;height:5.2px;background:#fde2df;border-radius:.8px"></div>
<div class="a t" style="left:819.88px;top:506.79px;font-size:3.6px;line-height:3.6px;color:#8e3b35;">Improve consistency in posting</div>
<div class="a t" style="left:473.2px;top:514.75px;font-size:5px;line-height:5px;color:#bdbcb9;">+</div>
<div class="a t" style="left:480px;top:515.59px;font-size:4.5px;line-height:4.5px;color:#bdbcb9;">New page</div>
<div class="a" style="left:980.7px;top:112px;width:4.8px;height:0.9px;background:#4a4945"></div>
<div class="a" style="left:980.7px;top:116px;width:4.8px;height:0.6px;background:#dcdcda"></div>
<div class="a" style="left:980.7px;top:120px;width:4.8px;height:0.6px;background:#dcdcda"></div>
<div class="a" style="left:971.7px;top:532.4px;width:10.8px;height:10.8px;background:#fff;border-radius:50%;box-shadow:0 0 0 .5px rgba(15,15,15,.05),0 .5px 2px rgba(15,15,15,.06)"></div>
<div class="a t" style="left:977.3px;top:535.2px;font-size:7.6px;line-height:7.6px;color:#4a4945;transform:translateX(-50%) skewX(.06deg);font-weight:bold;">?</div>
 </div>
</div>
</body></html>
